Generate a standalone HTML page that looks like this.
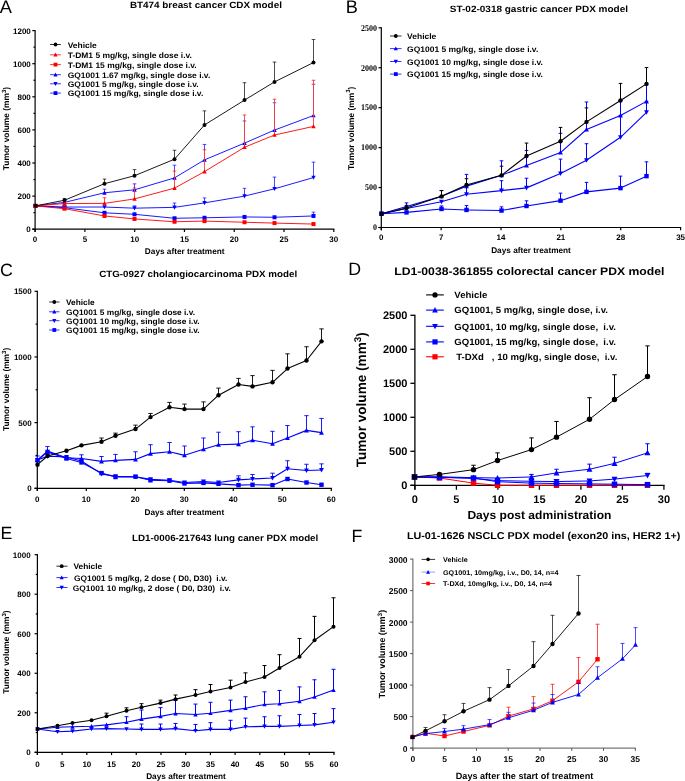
<!DOCTYPE html>
<html><head><meta charset="utf-8"><style>
html,body{margin:0;padding:0;background:#fff;}
body{width:685px;height:781px;overflow:hidden;font-family:"Liberation Sans", sans-serif;}
svg{display:block;will-change:transform;} text{white-space:pre;text-rendering:geometricPrecision;}
</style></head><body>
<svg width="685" height="781" viewBox="0 0 685 781">
<rect width="685" height="781" fill="#fff"/>
<line x1="35.1" y1="30" x2="35.1" y2="232" stroke="#000" stroke-width="1.2"/>
<line x1="32.3" y1="229.2" x2="334.41" y2="229.2" stroke="#000" stroke-width="1.2"/>
<line x1="32.3" y1="229.2" x2="35.1" y2="229.2" stroke="#000" stroke-width="1.2"/>
<text x="30.8" y="232.1" font-size="8" font-weight="bold" text-anchor="end" fill="#000" font-family='"Liberation Sans", sans-serif'>0</text>
<line x1="32.3" y1="196.1" x2="35.1" y2="196.1" stroke="#000" stroke-width="1.2"/>
<text x="30.8" y="199" font-size="8" font-weight="bold" text-anchor="end" fill="#000" font-family='"Liberation Sans", sans-serif'>200</text>
<line x1="32.3" y1="163" x2="35.1" y2="163" stroke="#000" stroke-width="1.2"/>
<text x="30.8" y="165.9" font-size="8" font-weight="bold" text-anchor="end" fill="#000" font-family='"Liberation Sans", sans-serif'>400</text>
<line x1="32.3" y1="129.9" x2="35.1" y2="129.9" stroke="#000" stroke-width="1.2"/>
<text x="30.8" y="132.8" font-size="8" font-weight="bold" text-anchor="end" fill="#000" font-family='"Liberation Sans", sans-serif'>600</text>
<line x1="32.3" y1="96.8" x2="35.1" y2="96.8" stroke="#000" stroke-width="1.2"/>
<text x="30.8" y="99.7" font-size="8" font-weight="bold" text-anchor="end" fill="#000" font-family='"Liberation Sans", sans-serif'>800</text>
<line x1="32.3" y1="63.7" x2="35.1" y2="63.7" stroke="#000" stroke-width="1.2"/>
<text x="30.8" y="66.6" font-size="8" font-weight="bold" text-anchor="end" fill="#000" font-family='"Liberation Sans", sans-serif'>1000</text>
<line x1="32.3" y1="30.6" x2="35.1" y2="30.6" stroke="#000" stroke-width="1.2"/>
<text x="30.8" y="33.5" font-size="8" font-weight="bold" text-anchor="end" fill="#000" font-family='"Liberation Sans", sans-serif'>1200</text>
<line x1="33.42" y1="212.65" x2="35.1" y2="212.65" stroke="#000" stroke-width="1.2"/>
<line x1="33.42" y1="179.55" x2="35.1" y2="179.55" stroke="#000" stroke-width="1.2"/>
<line x1="33.42" y1="146.45" x2="35.1" y2="146.45" stroke="#000" stroke-width="1.2"/>
<line x1="33.42" y1="113.35" x2="35.1" y2="113.35" stroke="#000" stroke-width="1.2"/>
<line x1="33.42" y1="80.25" x2="35.1" y2="80.25" stroke="#000" stroke-width="1.2"/>
<line x1="33.42" y1="47.15" x2="35.1" y2="47.15" stroke="#000" stroke-width="1.2"/>
<line x1="35.1" y1="229.2" x2="35.1" y2="232" stroke="#000" stroke-width="1.2"/>
<text x="35.1" y="241.8" font-size="8" font-weight="bold" text-anchor="middle" fill="#000" font-family='"Liberation Sans", sans-serif'>0</text>
<line x1="84.89" y1="229.2" x2="84.89" y2="232" stroke="#000" stroke-width="1.2"/>
<text x="84.89" y="241.8" font-size="8" font-weight="bold" text-anchor="middle" fill="#000" font-family='"Liberation Sans", sans-serif'>5</text>
<line x1="134.67" y1="229.2" x2="134.67" y2="232" stroke="#000" stroke-width="1.2"/>
<text x="134.67" y="241.8" font-size="8" font-weight="bold" text-anchor="middle" fill="#000" font-family='"Liberation Sans", sans-serif'>10</text>
<line x1="184.46" y1="229.2" x2="184.46" y2="232" stroke="#000" stroke-width="1.2"/>
<text x="184.46" y="241.8" font-size="8" font-weight="bold" text-anchor="middle" fill="#000" font-family='"Liberation Sans", sans-serif'>15</text>
<line x1="234.24" y1="229.2" x2="234.24" y2="232" stroke="#000" stroke-width="1.2"/>
<text x="234.24" y="241.8" font-size="8" font-weight="bold" text-anchor="middle" fill="#000" font-family='"Liberation Sans", sans-serif'>20</text>
<line x1="284.03" y1="229.2" x2="284.03" y2="232" stroke="#000" stroke-width="1.2"/>
<text x="284.03" y="241.8" font-size="8" font-weight="bold" text-anchor="middle" fill="#000" font-family='"Liberation Sans", sans-serif'>25</text>
<line x1="333.81" y1="229.2" x2="333.81" y2="232" stroke="#000" stroke-width="1.2"/>
<text x="333.81" y="241.8" font-size="8" font-weight="bold" text-anchor="middle" fill="#000" font-family='"Liberation Sans", sans-serif'>30</text>
<text x="129.9" y="7.9" font-size="9.12" font-weight="bold" text-anchor="start" fill="#000" font-family='"Liberation Sans", sans-serif' textLength="152" lengthAdjust="spacingAndGlyphs">BT474 breast cancer CDX model</text>
<text x="-0.3" y="12.5" font-size="18.2" font-weight="normal" text-anchor="start" fill="#000" font-family='"Liberation Sans", sans-serif'>A</text>
<text x="184.7" y="253.5" font-size="8.24" font-weight="bold" text-anchor="middle" fill="#000" font-family='"Liberation Sans", sans-serif' textLength="79.7" lengthAdjust="spacingAndGlyphs">Days after treatment</text>
<text transform="translate(9.2,128.5) rotate(-90)" font-size="8.4" font-weight="bold" text-anchor="middle" font-family='"Liberation Sans", sans-serif' fill="#000">Tumor volume (mm<tspan font-size="6.05" dy="-3.19">3</tspan><tspan dy="3.19">)</tspan></text>
<polyline points="35.5,205.86 64.5,207.69 104.5,212.82 134.5,214.3 174.5,218.28 204.5,217.78 244.5,216.95 274.5,217.28 313.5,215.96" fill="none" stroke="#0000ff" stroke-width="0.9" stroke-linejoin="round"/>
<line x1="313.5" y1="215.96" x2="313.5" y2="212.15" stroke="#fff" stroke-width="0.7"/>
<line x1="313.5" y1="215.96" x2="313.5" y2="212.15" stroke="#0000ff" stroke-width="0.7"/>
<line x1="311.7" y1="212.15" x2="315.3" y2="212.15" stroke="#0000ff" stroke-width="0.7"/>
<rect x="33.5" y="203.86" width="4" height="4" fill="#0000ff"/>
<rect x="62.5" y="205.69" width="4" height="4" fill="#0000ff"/>
<rect x="102.5" y="210.82" width="4" height="4" fill="#0000ff"/>
<rect x="132.5" y="212.3" width="4" height="4" fill="#0000ff"/>
<rect x="172.5" y="216.28" width="4" height="4" fill="#0000ff"/>
<rect x="202.5" y="215.78" width="4" height="4" fill="#0000ff"/>
<rect x="242.5" y="214.95" width="4" height="4" fill="#0000ff"/>
<rect x="272.5" y="215.28" width="4" height="4" fill="#0000ff"/>
<rect x="311.5" y="213.96" width="4" height="4" fill="#0000ff"/>
<polyline points="35.5,205.86 64.5,207.02 104.5,207.02 134.5,208.18 174.5,207.35 204.5,202.89 244.5,196.1 274.5,188.82 313.5,177.56" fill="none" stroke="#0000ff" stroke-width="0.9" stroke-linejoin="round"/>
<line x1="134.5" y1="208.18" x2="134.5" y2="205.86" stroke="#fff" stroke-width="0.7"/>
<line x1="134.5" y1="208.18" x2="134.5" y2="205.86" stroke="#0000ff" stroke-width="0.7"/>
<line x1="132.7" y1="205.86" x2="136.3" y2="205.86" stroke="#0000ff" stroke-width="0.7"/>
<line x1="174.5" y1="207.35" x2="174.5" y2="203.05" stroke="#fff" stroke-width="0.7"/>
<line x1="174.5" y1="207.35" x2="174.5" y2="203.05" stroke="#0000ff" stroke-width="0.7"/>
<line x1="172.7" y1="203.05" x2="176.3" y2="203.05" stroke="#0000ff" stroke-width="0.7"/>
<line x1="204.5" y1="202.89" x2="204.5" y2="197.92" stroke="#fff" stroke-width="0.7"/>
<line x1="204.5" y1="202.89" x2="204.5" y2="197.92" stroke="#0000ff" stroke-width="0.7"/>
<line x1="202.7" y1="197.92" x2="206.3" y2="197.92" stroke="#0000ff" stroke-width="0.7"/>
<line x1="244.5" y1="196.1" x2="244.5" y2="188.32" stroke="#fff" stroke-width="0.7"/>
<line x1="244.5" y1="196.1" x2="244.5" y2="188.32" stroke="#0000ff" stroke-width="0.7"/>
<line x1="242.7" y1="188.32" x2="246.3" y2="188.32" stroke="#0000ff" stroke-width="0.7"/>
<line x1="274.5" y1="188.82" x2="274.5" y2="177.07" stroke="#fff" stroke-width="0.7"/>
<line x1="274.5" y1="188.82" x2="274.5" y2="177.07" stroke="#0000ff" stroke-width="0.7"/>
<line x1="272.7" y1="177.07" x2="276.3" y2="177.07" stroke="#0000ff" stroke-width="0.7"/>
<line x1="313.5" y1="177.56" x2="313.5" y2="162.17" stroke="#fff" stroke-width="0.7"/>
<line x1="313.5" y1="177.56" x2="313.5" y2="162.17" stroke="#0000ff" stroke-width="0.7"/>
<line x1="311.7" y1="162.17" x2="315.3" y2="162.17" stroke="#0000ff" stroke-width="0.7"/>
<polygon points="35.5,208.16 37.7,204.02 33.3,204.02" fill="#0000ff"/>
<polygon points="64.5,209.32 66.7,205.18 62.3,205.18" fill="#0000ff"/>
<polygon points="104.5,209.32 106.7,205.18 102.3,205.18" fill="#0000ff"/>
<polygon points="134.5,210.48 136.7,206.34 132.3,206.34" fill="#0000ff"/>
<polygon points="174.5,209.65 176.7,205.51 172.3,205.51" fill="#0000ff"/>
<polygon points="204.5,205.19 206.7,201.05 202.3,201.05" fill="#0000ff"/>
<polygon points="244.5,198.4 246.7,194.26 242.3,194.26" fill="#0000ff"/>
<polygon points="274.5,191.12 276.7,186.98 272.3,186.98" fill="#0000ff"/>
<polygon points="313.5,179.86 315.7,175.72 311.3,175.72" fill="#0000ff"/>
<polyline points="35.5,205.86 64.5,202.39 104.5,192.79 134.5,189.81 174.5,177.89 204.5,159.86 244.5,143.14 274.5,130.07 313.5,115.5" fill="none" stroke="#0000ff" stroke-width="0.9" stroke-linejoin="round"/>
<line x1="104.5" y1="192.79" x2="104.5" y2="189.15" stroke="#fff" stroke-width="0.7"/>
<line x1="104.5" y1="192.79" x2="104.5" y2="189.15" stroke="#0000ff" stroke-width="0.7"/>
<line x1="102.7" y1="189.15" x2="106.3" y2="189.15" stroke="#0000ff" stroke-width="0.7"/>
<line x1="134.5" y1="189.81" x2="134.5" y2="183.85" stroke="#fff" stroke-width="0.7"/>
<line x1="134.5" y1="189.81" x2="134.5" y2="183.85" stroke="#0000ff" stroke-width="0.7"/>
<line x1="132.7" y1="183.85" x2="136.3" y2="183.85" stroke="#0000ff" stroke-width="0.7"/>
<line x1="174.5" y1="177.89" x2="174.5" y2="165.15" stroke="#fff" stroke-width="0.7"/>
<line x1="174.5" y1="177.89" x2="174.5" y2="165.15" stroke="#0000ff" stroke-width="0.7"/>
<line x1="172.7" y1="165.15" x2="176.3" y2="165.15" stroke="#0000ff" stroke-width="0.7"/>
<line x1="204.5" y1="159.86" x2="204.5" y2="144.46" stroke="#fff" stroke-width="0.7"/>
<line x1="204.5" y1="159.86" x2="204.5" y2="144.46" stroke="#0000ff" stroke-width="0.7"/>
<line x1="202.7" y1="144.46" x2="206.3" y2="144.46" stroke="#0000ff" stroke-width="0.7"/>
<line x1="244.5" y1="143.14" x2="244.5" y2="120.96" stroke="#fff" stroke-width="0.7"/>
<line x1="244.5" y1="143.14" x2="244.5" y2="120.96" stroke="#0000ff" stroke-width="0.7"/>
<line x1="242.7" y1="120.96" x2="246.3" y2="120.96" stroke="#0000ff" stroke-width="0.7"/>
<line x1="274.5" y1="130.07" x2="274.5" y2="102.76" stroke="#fff" stroke-width="0.7"/>
<line x1="274.5" y1="130.07" x2="274.5" y2="102.76" stroke="#0000ff" stroke-width="0.7"/>
<line x1="272.7" y1="102.76" x2="276.3" y2="102.76" stroke="#0000ff" stroke-width="0.7"/>
<line x1="313.5" y1="115.5" x2="313.5" y2="84.22" stroke="#fff" stroke-width="0.7"/>
<line x1="313.5" y1="115.5" x2="313.5" y2="84.22" stroke="#0000ff" stroke-width="0.7"/>
<line x1="311.7" y1="84.22" x2="315.3" y2="84.22" stroke="#0000ff" stroke-width="0.7"/>
<polygon points="35.5,203.56 37.7,207.7 33.3,207.7" fill="#0000ff"/>
<polygon points="64.5,200.09 66.7,204.23 62.3,204.23" fill="#0000ff"/>
<polygon points="104.5,190.49 106.7,194.63 102.3,194.63" fill="#0000ff"/>
<polygon points="134.5,187.51 136.7,191.65 132.3,191.65" fill="#0000ff"/>
<polygon points="174.5,175.59 176.7,179.73 172.3,179.73" fill="#0000ff"/>
<polygon points="204.5,157.56 206.7,161.7 202.3,161.7" fill="#0000ff"/>
<polygon points="244.5,140.84 246.7,144.98 242.3,144.98" fill="#0000ff"/>
<polygon points="274.5,127.77 276.7,131.91 272.3,131.91" fill="#0000ff"/>
<polygon points="313.5,113.2 315.7,117.34 311.3,117.34" fill="#0000ff"/>
<polyline points="35.5,205.86 64.5,208.68 104.5,215.96 134.5,218.94 174.5,221.75 204.5,221.09 244.5,222.25 274.5,223.08 313.5,224.07" fill="none" stroke="#ff0000" stroke-width="0.9" stroke-linejoin="round"/>
<rect x="33.5" y="203.86" width="4" height="4" fill="#ff0000"/>
<rect x="62.5" y="206.68" width="4" height="4" fill="#ff0000"/>
<rect x="102.5" y="213.96" width="4" height="4" fill="#ff0000"/>
<rect x="132.5" y="216.94" width="4" height="4" fill="#ff0000"/>
<rect x="172.5" y="219.75" width="4" height="4" fill="#ff0000"/>
<rect x="202.5" y="219.09" width="4" height="4" fill="#ff0000"/>
<rect x="242.5" y="220.25" width="4" height="4" fill="#ff0000"/>
<rect x="272.5" y="221.08" width="4" height="4" fill="#ff0000"/>
<rect x="311.5" y="222.07" width="4" height="4" fill="#ff0000"/>
<polyline points="35.5,205.86 64.5,203.55 104.5,203.38 134.5,198.91 174.5,188.16 204.5,171.61 244.5,147.28 274.5,135.03 313.5,126.42" fill="none" stroke="#ff0000" stroke-width="0.9" stroke-linejoin="round"/>
<line x1="104.5" y1="203.38" x2="104.5" y2="197.75" stroke="#fff" stroke-width="0.7"/>
<line x1="104.5" y1="203.38" x2="104.5" y2="197.75" stroke="#ff0000" stroke-width="0.7"/>
<line x1="102.7" y1="197.75" x2="106.3" y2="197.75" stroke="#ff0000" stroke-width="0.7"/>
<line x1="134.5" y1="198.91" x2="134.5" y2="187.99" stroke="#fff" stroke-width="0.7"/>
<line x1="134.5" y1="198.91" x2="134.5" y2="187.99" stroke="#ff0000" stroke-width="0.7"/>
<line x1="132.7" y1="187.99" x2="136.3" y2="187.99" stroke="#ff0000" stroke-width="0.7"/>
<line x1="174.5" y1="188.16" x2="174.5" y2="171.11" stroke="#fff" stroke-width="0.7"/>
<line x1="174.5" y1="188.16" x2="174.5" y2="171.11" stroke="#ff0000" stroke-width="0.7"/>
<line x1="172.7" y1="171.11" x2="176.3" y2="171.11" stroke="#ff0000" stroke-width="0.7"/>
<line x1="204.5" y1="171.61" x2="204.5" y2="149.76" stroke="#fff" stroke-width="0.7"/>
<line x1="204.5" y1="171.61" x2="204.5" y2="149.76" stroke="#ff0000" stroke-width="0.7"/>
<line x1="202.7" y1="149.76" x2="206.3" y2="149.76" stroke="#ff0000" stroke-width="0.7"/>
<line x1="244.5" y1="147.28" x2="244.5" y2="115" stroke="#fff" stroke-width="0.7"/>
<line x1="244.5" y1="147.28" x2="244.5" y2="115" stroke="#ff0000" stroke-width="0.7"/>
<line x1="242.7" y1="115" x2="246.3" y2="115" stroke="#ff0000" stroke-width="0.7"/>
<line x1="274.5" y1="135.03" x2="274.5" y2="99.28" stroke="#fff" stroke-width="0.7"/>
<line x1="274.5" y1="135.03" x2="274.5" y2="99.28" stroke="#ff0000" stroke-width="0.7"/>
<line x1="272.7" y1="99.28" x2="276.3" y2="99.28" stroke="#ff0000" stroke-width="0.7"/>
<line x1="313.5" y1="126.42" x2="313.5" y2="80.25" stroke="#fff" stroke-width="0.7"/>
<line x1="313.5" y1="126.42" x2="313.5" y2="80.25" stroke="#ff0000" stroke-width="0.7"/>
<line x1="311.7" y1="80.25" x2="315.3" y2="80.25" stroke="#ff0000" stroke-width="0.7"/>
<polygon points="35.5,203.56 37.7,207.7 33.3,207.7" fill="#ff0000"/>
<polygon points="64.5,201.25 66.7,205.39 62.3,205.39" fill="#ff0000"/>
<polygon points="104.5,201.08 106.7,205.22 102.3,205.22" fill="#ff0000"/>
<polygon points="134.5,196.61 136.7,200.75 132.3,200.75" fill="#ff0000"/>
<polygon points="174.5,185.86 176.7,190 172.3,190" fill="#ff0000"/>
<polygon points="204.5,169.31 206.7,173.45 202.3,173.45" fill="#ff0000"/>
<polygon points="244.5,144.98 246.7,149.12 242.3,149.12" fill="#ff0000"/>
<polygon points="274.5,132.73 276.7,136.87 272.3,136.87" fill="#ff0000"/>
<polygon points="313.5,124.12 315.7,128.26 311.3,128.26" fill="#ff0000"/>
<polyline points="35.5,205.86 64.5,200.24 104.5,183.69 134.5,175.74 174.5,159.19 204.5,124.93 244.5,100.11 274.5,81.9 313.5,62.54" fill="none" stroke="#000" stroke-width="0.9" stroke-linejoin="round"/>
<line x1="64.5" y1="200.24" x2="64.5" y2="198.58" stroke="#fff" stroke-width="0.7"/>
<line x1="64.5" y1="200.24" x2="64.5" y2="198.58" stroke="#000" stroke-width="0.7"/>
<line x1="62.7" y1="198.58" x2="66.3" y2="198.58" stroke="#000" stroke-width="0.7"/>
<line x1="104.5" y1="183.69" x2="104.5" y2="179.05" stroke="#fff" stroke-width="0.7"/>
<line x1="104.5" y1="183.69" x2="104.5" y2="179.05" stroke="#000" stroke-width="0.7"/>
<line x1="102.7" y1="179.05" x2="106.3" y2="179.05" stroke="#000" stroke-width="0.7"/>
<line x1="134.5" y1="175.74" x2="134.5" y2="169.62" stroke="#fff" stroke-width="0.7"/>
<line x1="134.5" y1="175.74" x2="134.5" y2="169.62" stroke="#000" stroke-width="0.7"/>
<line x1="132.7" y1="169.62" x2="136.3" y2="169.62" stroke="#000" stroke-width="0.7"/>
<line x1="174.5" y1="159.19" x2="174.5" y2="150.26" stroke="#fff" stroke-width="0.7"/>
<line x1="174.5" y1="159.19" x2="174.5" y2="150.26" stroke="#000" stroke-width="0.7"/>
<line x1="172.7" y1="150.26" x2="176.3" y2="150.26" stroke="#000" stroke-width="0.7"/>
<line x1="204.5" y1="124.93" x2="204.5" y2="110.87" stroke="#fff" stroke-width="0.7"/>
<line x1="204.5" y1="124.93" x2="204.5" y2="110.87" stroke="#000" stroke-width="0.7"/>
<line x1="202.7" y1="110.87" x2="206.3" y2="110.87" stroke="#000" stroke-width="0.7"/>
<line x1="244.5" y1="100.11" x2="244.5" y2="82.73" stroke="#fff" stroke-width="0.7"/>
<line x1="244.5" y1="100.11" x2="244.5" y2="82.73" stroke="#000" stroke-width="0.7"/>
<line x1="242.7" y1="82.73" x2="246.3" y2="82.73" stroke="#000" stroke-width="0.7"/>
<line x1="274.5" y1="81.9" x2="274.5" y2="62.04" stroke="#fff" stroke-width="0.7"/>
<line x1="274.5" y1="81.9" x2="274.5" y2="62.04" stroke="#000" stroke-width="0.7"/>
<line x1="272.7" y1="62.04" x2="276.3" y2="62.04" stroke="#000" stroke-width="0.7"/>
<line x1="313.5" y1="62.54" x2="313.5" y2="39.54" stroke="#fff" stroke-width="0.7"/>
<line x1="313.5" y1="62.54" x2="313.5" y2="39.54" stroke="#000" stroke-width="0.7"/>
<line x1="311.7" y1="39.54" x2="315.3" y2="39.54" stroke="#000" stroke-width="0.7"/>
<circle cx="35.5" cy="205.86" r="2" fill="#000"/>
<circle cx="64.5" cy="200.24" r="2" fill="#000"/>
<circle cx="104.5" cy="183.69" r="2" fill="#000"/>
<circle cx="134.5" cy="175.74" r="2" fill="#000"/>
<circle cx="174.5" cy="159.19" r="2" fill="#000"/>
<circle cx="204.5" cy="124.93" r="2" fill="#000"/>
<circle cx="244.5" cy="100.11" r="2" fill="#000"/>
<circle cx="274.5" cy="81.9" r="2" fill="#000"/>
<circle cx="313.5" cy="62.54" r="2" fill="#000"/>
<line x1="50.1" y1="44.5" x2="60.9" y2="44.5" stroke="#000" stroke-width="0.8"/>
<circle cx="55.5" cy="44.5" r="1.9" fill="#000"/>
<text x="67.7" y="47.5" font-size="8.03" font-weight="bold" text-anchor="start" fill="#000" font-family='"Liberation Sans", sans-serif' textLength="29.13" lengthAdjust="spacingAndGlyphs">Vehicle</text>
<line x1="50.1" y1="54.8" x2="60.9" y2="54.8" stroke="#ff0000" stroke-width="0.8"/>
<polygon points="55.5,52.61 57.59,56.55 53.41,56.55" fill="#ff0000"/>
<text x="67.7" y="57.8" font-size="8.03" font-weight="bold" text-anchor="start" fill="#000" font-family='"Liberation Sans", sans-serif' textLength="124.28" lengthAdjust="spacingAndGlyphs">T-DM1 5 mg/kg, single dose i.v.</text>
<line x1="50.1" y1="64.6" x2="60.9" y2="64.6" stroke="#ff0000" stroke-width="0.8"/>
<rect x="53.6" y="62.7" width="3.8" height="3.8" fill="#ff0000"/>
<text x="67.7" y="67.6" font-size="8.03" font-weight="bold" text-anchor="start" fill="#000" font-family='"Liberation Sans", sans-serif' textLength="128.98" lengthAdjust="spacingAndGlyphs">T-DM1 15 mg/kg, single dose i.v.</text>
<line x1="50.1" y1="74.7" x2="60.9" y2="74.7" stroke="#0000ff" stroke-width="0.8"/>
<polygon points="55.5,72.52 57.59,76.45 53.41,76.45" fill="#0000ff"/>
<text x="67.7" y="77.7" font-size="8.03" font-weight="bold" text-anchor="start" fill="#000" font-family='"Liberation Sans", sans-serif' textLength="142.61" lengthAdjust="spacingAndGlyphs">GQ1001 1.67 mg/kg, single dose i.v.</text>
<line x1="50.1" y1="83.8" x2="60.9" y2="83.8" stroke="#0000ff" stroke-width="0.8"/>
<polygon points="55.5,85.98 57.59,82.05 53.41,82.05" fill="#0000ff"/>
<text x="67.7" y="86.8" font-size="8.03" font-weight="bold" text-anchor="start" fill="#000" font-family='"Liberation Sans", sans-serif' textLength="130.87" lengthAdjust="spacingAndGlyphs">GQ1001 5 mg/kg, single dose i.v.</text>
<line x1="50.1" y1="93.1" x2="60.9" y2="93.1" stroke="#0000ff" stroke-width="0.8"/>
<rect x="53.6" y="91.2" width="3.8" height="3.8" fill="#0000ff"/>
<text x="67.7" y="96.1" font-size="8.03" font-weight="bold" text-anchor="start" fill="#000" font-family='"Liberation Sans", sans-serif' textLength="135.57" lengthAdjust="spacingAndGlyphs">GQ1001 15 mg/kg, single dose i.v.</text>
<line x1="381.3" y1="27.2" x2="381.3" y2="230.3" stroke="#000" stroke-width="1.2"/>
<line x1="378.5" y1="227.5" x2="681.19" y2="227.5" stroke="#000" stroke-width="1.2"/>
<line x1="378.5" y1="227.5" x2="381.3" y2="227.5" stroke="#000" stroke-width="1.2"/>
<text x="377.1" y="230.3" font-size="8.8" font-weight="bold" text-anchor="end" fill="#000" font-family='"Liberation Serif", serif' textLength="4" lengthAdjust="spacingAndGlyphs">0</text>
<line x1="378.5" y1="187.56" x2="381.3" y2="187.56" stroke="#000" stroke-width="1.2"/>
<text x="377.1" y="190.36" font-size="8.8" font-weight="bold" text-anchor="end" fill="#000" font-family='"Liberation Serif", serif' textLength="12" lengthAdjust="spacingAndGlyphs">500</text>
<line x1="378.5" y1="147.62" x2="381.3" y2="147.62" stroke="#000" stroke-width="1.2"/>
<text x="377.1" y="150.42" font-size="8.8" font-weight="bold" text-anchor="end" fill="#000" font-family='"Liberation Serif", serif' textLength="16" lengthAdjust="spacingAndGlyphs">1000</text>
<line x1="378.5" y1="107.68" x2="381.3" y2="107.68" stroke="#000" stroke-width="1.2"/>
<text x="377.1" y="110.48" font-size="8.8" font-weight="bold" text-anchor="end" fill="#000" font-family='"Liberation Serif", serif' textLength="16" lengthAdjust="spacingAndGlyphs">1500</text>
<line x1="378.5" y1="67.74" x2="381.3" y2="67.74" stroke="#000" stroke-width="1.2"/>
<text x="377.1" y="70.54" font-size="8.8" font-weight="bold" text-anchor="end" fill="#000" font-family='"Liberation Serif", serif' textLength="16" lengthAdjust="spacingAndGlyphs">2000</text>
<line x1="378.5" y1="27.8" x2="381.3" y2="27.8" stroke="#000" stroke-width="1.2"/>
<text x="377.1" y="30.6" font-size="8.8" font-weight="bold" text-anchor="end" fill="#000" font-family='"Liberation Serif", serif' textLength="16" lengthAdjust="spacingAndGlyphs">2500</text>
<line x1="381.3" y1="227.5" x2="381.3" y2="230.3" stroke="#000" stroke-width="1.2"/>
<text x="381.3" y="239.6" font-size="8" font-weight="bold" text-anchor="middle" fill="#000" font-family='"Liberation Sans", sans-serif'>0</text>
<line x1="441.16" y1="227.5" x2="441.16" y2="230.3" stroke="#000" stroke-width="1.2"/>
<text x="441.16" y="239.6" font-size="8" font-weight="bold" text-anchor="middle" fill="#000" font-family='"Liberation Sans", sans-serif'>7</text>
<line x1="501.01" y1="227.5" x2="501.01" y2="230.3" stroke="#000" stroke-width="1.2"/>
<text x="501.01" y="239.6" font-size="8" font-weight="bold" text-anchor="middle" fill="#000" font-family='"Liberation Sans", sans-serif'>14</text>
<line x1="560.87" y1="227.5" x2="560.87" y2="230.3" stroke="#000" stroke-width="1.2"/>
<text x="560.87" y="239.6" font-size="8" font-weight="bold" text-anchor="middle" fill="#000" font-family='"Liberation Sans", sans-serif'>21</text>
<line x1="620.73" y1="227.5" x2="620.73" y2="230.3" stroke="#000" stroke-width="1.2"/>
<text x="620.73" y="239.6" font-size="8" font-weight="bold" text-anchor="middle" fill="#000" font-family='"Liberation Sans", sans-serif'>28</text>
<line x1="680.59" y1="227.5" x2="680.59" y2="230.3" stroke="#000" stroke-width="1.2"/>
<text x="680.59" y="239.6" font-size="8" font-weight="bold" text-anchor="middle" fill="#000" font-family='"Liberation Sans", sans-serif'>35</text>
<text x="449.8" y="12.3" font-size="9.12" font-weight="bold" text-anchor="start" fill="#000" font-family='"Liberation Sans", sans-serif' textLength="178.2" lengthAdjust="spacingAndGlyphs">ST-02-0318 gastric cancer PDX model</text>
<text x="345.7" y="12.5" font-size="18.2" font-weight="normal" text-anchor="start" fill="#000" font-family='"Liberation Sans", sans-serif'>B</text>
<text x="531" y="252.9" font-size="8.24" font-weight="bold" text-anchor="middle" fill="#000" font-family='"Liberation Sans", sans-serif' textLength="79.7" lengthAdjust="spacingAndGlyphs">Days after treatment</text>
<text transform="translate(353.6,128.3) rotate(-90)" font-size="8.4" font-weight="bold" text-anchor="middle" font-family='"Liberation Sans", sans-serif' fill="#000">Tumor volume (mm<tspan font-size="6.05" dy="-3.19">3</tspan><tspan dy="3.19">)</tspan></text>
<polyline points="381.5,213.68 406.5,212.4 441.5,208.97 466.5,209.93 501.5,210.57 526.5,206.01 560.5,200.66 586.5,191.87 620.5,188.12 646.5,176.14" fill="none" stroke="#0000ff" stroke-width="1.1" stroke-linejoin="round"/>
<line x1="441.5" y1="208.97" x2="441.5" y2="205.93" stroke="#fff" stroke-width="1"/>
<line x1="441.5" y1="208.97" x2="441.5" y2="205.93" stroke="#0000ff" stroke-width="1"/>
<line x1="439.7" y1="205.93" x2="443.3" y2="205.93" stroke="#0000ff" stroke-width="1"/>
<line x1="466.5" y1="209.93" x2="466.5" y2="205.61" stroke="#fff" stroke-width="1"/>
<line x1="466.5" y1="209.93" x2="466.5" y2="205.61" stroke="#0000ff" stroke-width="1"/>
<line x1="464.7" y1="205.61" x2="468.3" y2="205.61" stroke="#0000ff" stroke-width="1"/>
<line x1="501.5" y1="210.57" x2="501.5" y2="206.89" stroke="#fff" stroke-width="1"/>
<line x1="501.5" y1="210.57" x2="501.5" y2="206.89" stroke="#0000ff" stroke-width="1"/>
<line x1="499.7" y1="206.89" x2="503.3" y2="206.89" stroke="#0000ff" stroke-width="1"/>
<line x1="526.5" y1="206.01" x2="526.5" y2="200.82" stroke="#fff" stroke-width="1"/>
<line x1="526.5" y1="206.01" x2="526.5" y2="200.82" stroke="#0000ff" stroke-width="1"/>
<line x1="524.7" y1="200.82" x2="528.3" y2="200.82" stroke="#0000ff" stroke-width="1"/>
<line x1="560.5" y1="200.66" x2="560.5" y2="193.15" stroke="#fff" stroke-width="1"/>
<line x1="560.5" y1="200.66" x2="560.5" y2="193.15" stroke="#0000ff" stroke-width="1"/>
<line x1="558.7" y1="193.15" x2="562.3" y2="193.15" stroke="#0000ff" stroke-width="1"/>
<line x1="586.5" y1="191.87" x2="586.5" y2="182.37" stroke="#fff" stroke-width="1"/>
<line x1="586.5" y1="191.87" x2="586.5" y2="182.37" stroke="#0000ff" stroke-width="1"/>
<line x1="584.7" y1="182.37" x2="588.3" y2="182.37" stroke="#0000ff" stroke-width="1"/>
<line x1="620.5" y1="188.12" x2="620.5" y2="176.14" stroke="#fff" stroke-width="1"/>
<line x1="620.5" y1="188.12" x2="620.5" y2="176.14" stroke="#0000ff" stroke-width="1"/>
<line x1="618.7" y1="176.14" x2="622.3" y2="176.14" stroke="#0000ff" stroke-width="1"/>
<line x1="646.5" y1="176.14" x2="646.5" y2="161.84" stroke="#fff" stroke-width="1"/>
<line x1="646.5" y1="176.14" x2="646.5" y2="161.84" stroke="#0000ff" stroke-width="1"/>
<line x1="644.7" y1="161.84" x2="648.3" y2="161.84" stroke="#0000ff" stroke-width="1"/>
<rect x="379.3" y="211.48" width="4.4" height="4.4" fill="#0000ff"/>
<rect x="404.3" y="210.2" width="4.4" height="4.4" fill="#0000ff"/>
<rect x="439.3" y="206.77" width="4.4" height="4.4" fill="#0000ff"/>
<rect x="464.3" y="207.73" width="4.4" height="4.4" fill="#0000ff"/>
<rect x="499.3" y="208.37" width="4.4" height="4.4" fill="#0000ff"/>
<rect x="524.3" y="203.81" width="4.4" height="4.4" fill="#0000ff"/>
<rect x="558.3" y="198.46" width="4.4" height="4.4" fill="#0000ff"/>
<rect x="584.3" y="189.67" width="4.4" height="4.4" fill="#0000ff"/>
<rect x="618.3" y="185.92" width="4.4" height="4.4" fill="#0000ff"/>
<rect x="644.3" y="173.94" width="4.4" height="4.4" fill="#0000ff"/>
<polyline points="381.5,213.68 406.5,208.49 441.5,201.7 466.5,194.27 501.5,190.6 526.5,187.88 560.5,173.58 586.5,160.24 620.5,137.32 646.5,112.31" fill="none" stroke="#0000ff" stroke-width="1.1" stroke-linejoin="round"/>
<line x1="466.5" y1="194.27" x2="466.5" y2="185.96" stroke="#fff" stroke-width="1"/>
<line x1="466.5" y1="194.27" x2="466.5" y2="185.96" stroke="#0000ff" stroke-width="1"/>
<line x1="464.7" y1="185.96" x2="468.3" y2="185.96" stroke="#0000ff" stroke-width="1"/>
<line x1="501.5" y1="190.6" x2="501.5" y2="180.69" stroke="#fff" stroke-width="1"/>
<line x1="501.5" y1="190.6" x2="501.5" y2="180.69" stroke="#0000ff" stroke-width="1"/>
<line x1="499.7" y1="180.69" x2="503.3" y2="180.69" stroke="#0000ff" stroke-width="1"/>
<line x1="526.5" y1="187.88" x2="526.5" y2="178.21" stroke="#fff" stroke-width="1"/>
<line x1="526.5" y1="187.88" x2="526.5" y2="178.21" stroke="#0000ff" stroke-width="1"/>
<line x1="524.7" y1="178.21" x2="528.3" y2="178.21" stroke="#0000ff" stroke-width="1"/>
<line x1="560.5" y1="173.58" x2="560.5" y2="159.12" stroke="#fff" stroke-width="1"/>
<line x1="560.5" y1="173.58" x2="560.5" y2="159.12" stroke="#0000ff" stroke-width="1"/>
<line x1="558.7" y1="159.12" x2="562.3" y2="159.12" stroke="#0000ff" stroke-width="1"/>
<line x1="586.5" y1="160.24" x2="586.5" y2="143.71" stroke="#fff" stroke-width="1"/>
<line x1="586.5" y1="160.24" x2="586.5" y2="143.71" stroke="#0000ff" stroke-width="1"/>
<line x1="584.7" y1="143.71" x2="588.3" y2="143.71" stroke="#0000ff" stroke-width="1"/>
<line x1="620.5" y1="137.32" x2="620.5" y2="115.43" stroke="#fff" stroke-width="1"/>
<line x1="620.5" y1="137.32" x2="620.5" y2="115.43" stroke="#0000ff" stroke-width="1"/>
<line x1="618.7" y1="115.43" x2="622.3" y2="115.43" stroke="#0000ff" stroke-width="1"/>
<line x1="646.5" y1="112.31" x2="646.5" y2="101.37" stroke="#fff" stroke-width="1"/>
<line x1="646.5" y1="112.31" x2="646.5" y2="101.37" stroke="#0000ff" stroke-width="1"/>
<line x1="644.7" y1="101.37" x2="648.3" y2="101.37" stroke="#0000ff" stroke-width="1"/>
<polygon points="381.5,216.21 383.92,211.66 379.08,211.66" fill="#0000ff"/>
<polygon points="406.5,211.02 408.92,206.46 404.08,206.46" fill="#0000ff"/>
<polygon points="441.5,204.23 443.92,199.67 439.08,199.67" fill="#0000ff"/>
<polygon points="466.5,196.8 468.92,192.25 464.08,192.25" fill="#0000ff"/>
<polygon points="501.5,193.13 503.92,188.57 499.08,188.57" fill="#0000ff"/>
<polygon points="526.5,190.41 528.92,185.86 524.08,185.86" fill="#0000ff"/>
<polygon points="560.5,176.11 562.92,171.56 558.08,171.56" fill="#0000ff"/>
<polygon points="586.5,162.77 588.92,158.22 584.08,158.22" fill="#0000ff"/>
<polygon points="620.5,139.85 622.92,135.29 618.08,135.29" fill="#0000ff"/>
<polygon points="646.5,114.84 648.92,110.29 644.08,110.29" fill="#0000ff"/>
<polyline points="381.5,213.68 406.5,206.49 441.5,196.35 466.5,186.12 501.5,175.34 526.5,165.51 560.5,152.57 586.5,129.49 620.5,115.43 646.5,101.37" fill="none" stroke="#0000ff" stroke-width="1.1" stroke-linejoin="round"/>
<line x1="406.5" y1="206.49" x2="406.5" y2="202.9" stroke="#fff" stroke-width="1"/>
<line x1="406.5" y1="206.49" x2="406.5" y2="202.9" stroke="#0000ff" stroke-width="1"/>
<line x1="404.7" y1="202.9" x2="408.3" y2="202.9" stroke="#0000ff" stroke-width="1"/>
<line x1="441.5" y1="196.35" x2="441.5" y2="190.44" stroke="#fff" stroke-width="1"/>
<line x1="441.5" y1="196.35" x2="441.5" y2="190.44" stroke="#0000ff" stroke-width="1"/>
<line x1="439.7" y1="190.44" x2="443.3" y2="190.44" stroke="#0000ff" stroke-width="1"/>
<line x1="466.5" y1="186.12" x2="466.5" y2="174.38" stroke="#fff" stroke-width="1"/>
<line x1="466.5" y1="186.12" x2="466.5" y2="174.38" stroke="#0000ff" stroke-width="1"/>
<line x1="464.7" y1="174.38" x2="468.3" y2="174.38" stroke="#0000ff" stroke-width="1"/>
<line x1="501.5" y1="175.34" x2="501.5" y2="160.8" stroke="#fff" stroke-width="1"/>
<line x1="501.5" y1="175.34" x2="501.5" y2="160.8" stroke="#0000ff" stroke-width="1"/>
<line x1="499.7" y1="160.8" x2="503.3" y2="160.8" stroke="#0000ff" stroke-width="1"/>
<line x1="526.5" y1="165.51" x2="526.5" y2="150.42" stroke="#fff" stroke-width="1"/>
<line x1="526.5" y1="165.51" x2="526.5" y2="150.42" stroke="#0000ff" stroke-width="1"/>
<line x1="524.7" y1="150.42" x2="528.3" y2="150.42" stroke="#0000ff" stroke-width="1"/>
<line x1="560.5" y1="152.57" x2="560.5" y2="133.32" stroke="#fff" stroke-width="1"/>
<line x1="560.5" y1="152.57" x2="560.5" y2="133.32" stroke="#0000ff" stroke-width="1"/>
<line x1="558.7" y1="133.32" x2="562.3" y2="133.32" stroke="#0000ff" stroke-width="1"/>
<line x1="586.5" y1="129.49" x2="586.5" y2="102.01" stroke="#fff" stroke-width="1"/>
<line x1="586.5" y1="129.49" x2="586.5" y2="102.01" stroke="#0000ff" stroke-width="1"/>
<line x1="584.7" y1="102.01" x2="588.3" y2="102.01" stroke="#0000ff" stroke-width="1"/>
<line x1="620.5" y1="115.43" x2="620.5" y2="100.49" stroke="#fff" stroke-width="1"/>
<line x1="620.5" y1="115.43" x2="620.5" y2="100.49" stroke="#0000ff" stroke-width="1"/>
<line x1="618.7" y1="100.49" x2="622.3" y2="100.49" stroke="#0000ff" stroke-width="1"/>
<line x1="646.5" y1="101.37" x2="646.5" y2="83.88" stroke="#fff" stroke-width="1"/>
<line x1="646.5" y1="101.37" x2="646.5" y2="83.88" stroke="#0000ff" stroke-width="1"/>
<line x1="644.7" y1="83.88" x2="648.3" y2="83.88" stroke="#0000ff" stroke-width="1"/>
<polygon points="381.5,211.15 383.92,215.7 379.08,215.7" fill="#0000ff"/>
<polygon points="406.5,203.96 408.92,208.52 404.08,208.52" fill="#0000ff"/>
<polygon points="441.5,193.82 443.92,198.37 439.08,198.37" fill="#0000ff"/>
<polygon points="466.5,183.59 468.92,188.15 464.08,188.15" fill="#0000ff"/>
<polygon points="501.5,172.81 503.92,177.36 499.08,177.36" fill="#0000ff"/>
<polygon points="526.5,162.98 528.92,167.54 524.08,167.54" fill="#0000ff"/>
<polygon points="560.5,150.04 562.92,154.6 558.08,154.6" fill="#0000ff"/>
<polygon points="586.5,126.96 588.92,131.51 584.08,131.51" fill="#0000ff"/>
<polygon points="620.5,112.9 622.92,117.45 618.08,117.45" fill="#0000ff"/>
<polygon points="646.5,98.84 648.92,103.39 644.08,103.39" fill="#0000ff"/>
<polyline points="381.5,213.68 406.5,208.09 441.5,196.35 466.5,185 501.5,175.34 526.5,156.01 560.5,141.23 586.5,121.9 620.5,100.49 646.5,83.88" fill="none" stroke="#000" stroke-width="1.1" stroke-linejoin="round"/>
<line x1="406.5" y1="208.09" x2="406.5" y2="205.37" stroke="#fff" stroke-width="1"/>
<line x1="406.5" y1="208.09" x2="406.5" y2="205.37" stroke="#000" stroke-width="1"/>
<line x1="404.7" y1="205.37" x2="408.3" y2="205.37" stroke="#000" stroke-width="1"/>
<line x1="441.5" y1="196.35" x2="441.5" y2="190.68" stroke="#fff" stroke-width="1"/>
<line x1="441.5" y1="196.35" x2="441.5" y2="190.68" stroke="#000" stroke-width="1"/>
<line x1="439.7" y1="190.68" x2="443.3" y2="190.68" stroke="#000" stroke-width="1"/>
<line x1="466.5" y1="185" x2="466.5" y2="178.69" stroke="#fff" stroke-width="1"/>
<line x1="466.5" y1="185" x2="466.5" y2="178.69" stroke="#000" stroke-width="1"/>
<line x1="464.7" y1="178.69" x2="468.3" y2="178.69" stroke="#000" stroke-width="1"/>
<line x1="501.5" y1="175.34" x2="501.5" y2="166.23" stroke="#fff" stroke-width="1"/>
<line x1="501.5" y1="175.34" x2="501.5" y2="166.23" stroke="#000" stroke-width="1"/>
<line x1="499.7" y1="166.23" x2="503.3" y2="166.23" stroke="#000" stroke-width="1"/>
<line x1="526.5" y1="156.01" x2="526.5" y2="143.07" stroke="#fff" stroke-width="1"/>
<line x1="526.5" y1="156.01" x2="526.5" y2="143.07" stroke="#000" stroke-width="1"/>
<line x1="524.7" y1="143.07" x2="528.3" y2="143.07" stroke="#000" stroke-width="1"/>
<line x1="560.5" y1="141.23" x2="560.5" y2="127.41" stroke="#fff" stroke-width="1"/>
<line x1="560.5" y1="141.23" x2="560.5" y2="127.41" stroke="#000" stroke-width="1"/>
<line x1="558.7" y1="127.41" x2="562.3" y2="127.41" stroke="#000" stroke-width="1"/>
<line x1="586.5" y1="121.9" x2="586.5" y2="107.92" stroke="#fff" stroke-width="1"/>
<line x1="586.5" y1="121.9" x2="586.5" y2="107.92" stroke="#000" stroke-width="1"/>
<line x1="584.7" y1="107.92" x2="588.3" y2="107.92" stroke="#000" stroke-width="1"/>
<line x1="620.5" y1="100.49" x2="620.5" y2="83.4" stroke="#fff" stroke-width="1"/>
<line x1="620.5" y1="100.49" x2="620.5" y2="83.4" stroke="#000" stroke-width="1"/>
<line x1="618.7" y1="83.4" x2="622.3" y2="83.4" stroke="#000" stroke-width="1"/>
<line x1="646.5" y1="83.88" x2="646.5" y2="67.58" stroke="#fff" stroke-width="1"/>
<line x1="646.5" y1="83.88" x2="646.5" y2="67.58" stroke="#000" stroke-width="1"/>
<line x1="644.7" y1="67.58" x2="648.3" y2="67.58" stroke="#000" stroke-width="1"/>
<circle cx="381.5" cy="213.68" r="2.2" fill="#000"/>
<circle cx="406.5" cy="208.09" r="2.2" fill="#000"/>
<circle cx="441.5" cy="196.35" r="2.2" fill="#000"/>
<circle cx="466.5" cy="185" r="2.2" fill="#000"/>
<circle cx="501.5" cy="175.34" r="2.2" fill="#000"/>
<circle cx="526.5" cy="156.01" r="2.2" fill="#000"/>
<circle cx="560.5" cy="141.23" r="2.2" fill="#000"/>
<circle cx="586.5" cy="121.9" r="2.2" fill="#000"/>
<circle cx="620.5" cy="100.49" r="2.2" fill="#000"/>
<circle cx="646.5" cy="83.88" r="2.2" fill="#000"/>
<line x1="390" y1="36" x2="401.5" y2="36" stroke="#000" stroke-width="0.8"/>
<circle cx="395.8" cy="36" r="1.9" fill="#000"/>
<text x="407.1" y="39" font-size="8.05" font-weight="bold" text-anchor="start" fill="#000" font-family='"Liberation Sans", sans-serif' textLength="29.2" lengthAdjust="spacingAndGlyphs">Vehicle</text>
<line x1="390" y1="48.6" x2="401.5" y2="48.6" stroke="#0000ff" stroke-width="0.8"/>
<polygon points="395.8,46.41 397.89,50.35 393.71,50.35" fill="#0000ff"/>
<text x="407.1" y="51.6" font-size="8.05" font-weight="bold" text-anchor="start" fill="#000" font-family='"Liberation Sans", sans-serif' textLength="131.18" lengthAdjust="spacingAndGlyphs">GQ1001 5 mg/kg, single dose i.v.</text>
<line x1="390" y1="61.5" x2="401.5" y2="61.5" stroke="#0000ff" stroke-width="0.8"/>
<polygon points="395.8,63.69 397.89,59.75 393.71,59.75" fill="#0000ff"/>
<text x="407.1" y="64.5" font-size="8.05" font-weight="bold" text-anchor="start" fill="#000" font-family='"Liberation Sans", sans-serif' textLength="135.89" lengthAdjust="spacingAndGlyphs">GQ1001 10 mg/kg, single dose i.v.</text>
<line x1="390" y1="74.1" x2="401.5" y2="74.1" stroke="#0000ff" stroke-width="0.8"/>
<rect x="393.9" y="72.2" width="3.8" height="3.8" fill="#0000ff"/>
<text x="407.1" y="77.1" font-size="8.05" font-weight="bold" text-anchor="start" fill="#000" font-family='"Liberation Sans", sans-serif' textLength="135.89" lengthAdjust="spacingAndGlyphs">GQ1001 15 mg/kg, single dose i.v.</text>
<line x1="37.3" y1="290.7" x2="37.3" y2="491.1" stroke="#000" stroke-width="1.2"/>
<line x1="34.5" y1="488.3" x2="331.9" y2="488.3" stroke="#000" stroke-width="1.2"/>
<line x1="34.5" y1="488.3" x2="37.3" y2="488.3" stroke="#000" stroke-width="1.2"/>
<text x="31.7" y="491.2" font-size="8" font-weight="bold" text-anchor="end" fill="#000" font-family='"Liberation Sans", sans-serif'>0</text>
<line x1="34.5" y1="422.63" x2="37.3" y2="422.63" stroke="#000" stroke-width="1.2"/>
<text x="31.7" y="425.53" font-size="8" font-weight="bold" text-anchor="end" fill="#000" font-family='"Liberation Sans", sans-serif'>500</text>
<line x1="34.5" y1="356.97" x2="37.3" y2="356.97" stroke="#000" stroke-width="1.2"/>
<text x="31.7" y="359.87" font-size="8" font-weight="bold" text-anchor="end" fill="#000" font-family='"Liberation Sans", sans-serif'>1000</text>
<line x1="34.5" y1="291.31" x2="37.3" y2="291.31" stroke="#000" stroke-width="1.2"/>
<text x="31.7" y="294.2" font-size="8" font-weight="bold" text-anchor="end" fill="#000" font-family='"Liberation Sans", sans-serif'>1500</text>
<line x1="35.62" y1="455.47" x2="37.3" y2="455.47" stroke="#000" stroke-width="1.2"/>
<line x1="35.62" y1="389.8" x2="37.3" y2="389.8" stroke="#000" stroke-width="1.2"/>
<line x1="35.62" y1="324.14" x2="37.3" y2="324.14" stroke="#000" stroke-width="1.2"/>
<line x1="37.3" y1="488.3" x2="37.3" y2="491.1" stroke="#000" stroke-width="1.2"/>
<text x="37.3" y="501.5" font-size="8" font-weight="bold" text-anchor="middle" fill="#000" font-family='"Liberation Sans", sans-serif'>0</text>
<line x1="86.3" y1="488.3" x2="86.3" y2="491.1" stroke="#000" stroke-width="1.2"/>
<text x="86.3" y="501.5" font-size="8" font-weight="bold" text-anchor="middle" fill="#000" font-family='"Liberation Sans", sans-serif'>10</text>
<line x1="135.3" y1="488.3" x2="135.3" y2="491.1" stroke="#000" stroke-width="1.2"/>
<text x="135.3" y="501.5" font-size="8" font-weight="bold" text-anchor="middle" fill="#000" font-family='"Liberation Sans", sans-serif'>20</text>
<line x1="184.3" y1="488.3" x2="184.3" y2="491.1" stroke="#000" stroke-width="1.2"/>
<text x="184.3" y="501.5" font-size="8" font-weight="bold" text-anchor="middle" fill="#000" font-family='"Liberation Sans", sans-serif'>30</text>
<line x1="233.3" y1="488.3" x2="233.3" y2="491.1" stroke="#000" stroke-width="1.2"/>
<text x="233.3" y="501.5" font-size="8" font-weight="bold" text-anchor="middle" fill="#000" font-family='"Liberation Sans", sans-serif'>40</text>
<line x1="282.3" y1="488.3" x2="282.3" y2="491.1" stroke="#000" stroke-width="1.2"/>
<text x="282.3" y="501.5" font-size="8" font-weight="bold" text-anchor="middle" fill="#000" font-family='"Liberation Sans", sans-serif'>50</text>
<line x1="331.3" y1="488.3" x2="331.3" y2="491.1" stroke="#000" stroke-width="1.2"/>
<text x="331.3" y="501.5" font-size="8" font-weight="bold" text-anchor="middle" fill="#000" font-family='"Liberation Sans", sans-serif'>60</text>
<text x="99.2" y="277.4" font-size="9.12" font-weight="bold" text-anchor="start" fill="#000" font-family='"Liberation Sans", sans-serif' textLength="198" lengthAdjust="spacingAndGlyphs">CTG-0927 cholangiocarcinoma PDX model</text>
<text x="0.1" y="275.5" font-size="17.8" font-weight="normal" text-anchor="start" fill="#000" font-family='"Liberation Sans", sans-serif'>C</text>
<text x="184.3" y="514.7" font-size="8.24" font-weight="bold" text-anchor="middle" fill="#000" font-family='"Liberation Sans", sans-serif' textLength="79.7" lengthAdjust="spacingAndGlyphs">Days after treatment</text>
<text transform="translate(9.4,389.4) rotate(-90)" font-size="8.4" font-weight="bold" text-anchor="middle" font-family='"Liberation Sans", sans-serif' fill="#000">Tumor volume (mm<tspan font-size="6.05" dy="-3.19">3</tspan><tspan dy="3.19">)</tspan></text>
<polyline points="37.5,460.33 47.5,451.92 66.5,458.49 81.5,462.43 101.5,473.07 115.5,477.01 135.5,476.74 150.5,480.29 169.5,480.68 184.5,483.44 203.5,482.92 218.5,483.83 238.5,485.15 252.5,484.75 272.5,485.15 287.5,478.98 306.5,482.52 321.5,484.75" fill="none" stroke="#0000ff" stroke-width="1.1" stroke-linejoin="round"/>
<rect x="35.3" y="458.13" width="4.4" height="4.4" fill="#0000ff"/>
<rect x="45.3" y="449.72" width="4.4" height="4.4" fill="#0000ff"/>
<rect x="64.3" y="456.29" width="4.4" height="4.4" fill="#0000ff"/>
<rect x="79.3" y="460.23" width="4.4" height="4.4" fill="#0000ff"/>
<rect x="99.3" y="470.87" width="4.4" height="4.4" fill="#0000ff"/>
<rect x="113.3" y="474.81" width="4.4" height="4.4" fill="#0000ff"/>
<rect x="133.3" y="474.54" width="4.4" height="4.4" fill="#0000ff"/>
<rect x="148.3" y="478.09" width="4.4" height="4.4" fill="#0000ff"/>
<rect x="167.3" y="478.48" width="4.4" height="4.4" fill="#0000ff"/>
<rect x="182.3" y="481.24" width="4.4" height="4.4" fill="#0000ff"/>
<rect x="201.3" y="480.72" width="4.4" height="4.4" fill="#0000ff"/>
<rect x="216.3" y="481.63" width="4.4" height="4.4" fill="#0000ff"/>
<rect x="236.3" y="482.95" width="4.4" height="4.4" fill="#0000ff"/>
<rect x="250.3" y="482.55" width="4.4" height="4.4" fill="#0000ff"/>
<rect x="270.3" y="482.95" width="4.4" height="4.4" fill="#0000ff"/>
<rect x="285.3" y="476.78" width="4.4" height="4.4" fill="#0000ff"/>
<rect x="304.3" y="480.32" width="4.4" height="4.4" fill="#0000ff"/>
<rect x="319.3" y="482.55" width="4.4" height="4.4" fill="#0000ff"/>
<polyline points="37.5,459.93 47.5,456.12 66.5,457.04 81.5,460.98 101.5,473.85 115.5,476.35 135.5,476.74 150.5,479.37 169.5,480.29 184.5,482.52 203.5,481.6 218.5,482.52 238.5,479.89 252.5,478.98 272.5,478.06 287.5,468.73 306.5,470.44 321.5,470.05" fill="none" stroke="#0000ff" stroke-width="1.1" stroke-linejoin="round"/>
<line x1="238.5" y1="479.89" x2="238.5" y2="475.82" stroke="#fff" stroke-width="0.9"/>
<line x1="238.5" y1="479.89" x2="238.5" y2="475.82" stroke="#0000ff" stroke-width="0.9"/>
<line x1="236.3" y1="475.82" x2="240.7" y2="475.82" stroke="#0000ff" stroke-width="0.9"/>
<line x1="252.5" y1="478.98" x2="252.5" y2="474.51" stroke="#fff" stroke-width="0.9"/>
<line x1="252.5" y1="478.98" x2="252.5" y2="474.51" stroke="#0000ff" stroke-width="0.9"/>
<line x1="250.3" y1="474.51" x2="254.7" y2="474.51" stroke="#0000ff" stroke-width="0.9"/>
<line x1="272.5" y1="478.06" x2="272.5" y2="473.2" stroke="#fff" stroke-width="0.9"/>
<line x1="272.5" y1="478.06" x2="272.5" y2="473.2" stroke="#0000ff" stroke-width="0.9"/>
<line x1="270.3" y1="473.2" x2="274.7" y2="473.2" stroke="#0000ff" stroke-width="0.9"/>
<line x1="287.5" y1="468.73" x2="287.5" y2="460.72" stroke="#fff" stroke-width="0.9"/>
<line x1="287.5" y1="468.73" x2="287.5" y2="460.72" stroke="#0000ff" stroke-width="0.9"/>
<line x1="285.3" y1="460.72" x2="289.7" y2="460.72" stroke="#0000ff" stroke-width="0.9"/>
<line x1="306.5" y1="470.44" x2="306.5" y2="464.27" stroke="#fff" stroke-width="0.9"/>
<line x1="306.5" y1="470.44" x2="306.5" y2="464.27" stroke="#0000ff" stroke-width="0.9"/>
<line x1="304.3" y1="464.27" x2="308.7" y2="464.27" stroke="#0000ff" stroke-width="0.9"/>
<line x1="321.5" y1="470.05" x2="321.5" y2="463.87" stroke="#fff" stroke-width="0.9"/>
<line x1="321.5" y1="470.05" x2="321.5" y2="463.87" stroke="#0000ff" stroke-width="0.9"/>
<line x1="319.3" y1="463.87" x2="323.7" y2="463.87" stroke="#0000ff" stroke-width="0.9"/>
<polygon points="37.5,462.46 39.92,457.91 35.08,457.91" fill="#0000ff"/>
<polygon points="47.5,458.65 49.92,454.1 45.08,454.1" fill="#0000ff"/>
<polygon points="66.5,459.57 68.92,455.02 64.08,455.02" fill="#0000ff"/>
<polygon points="81.5,463.51 83.92,458.96 79.08,458.96" fill="#0000ff"/>
<polygon points="101.5,476.38 103.92,471.83 99.08,471.83" fill="#0000ff"/>
<polygon points="115.5,478.88 117.92,474.32 113.08,474.32" fill="#0000ff"/>
<polygon points="135.5,479.27 137.92,474.72 133.08,474.72" fill="#0000ff"/>
<polygon points="150.5,481.9 152.92,477.35 148.08,477.35" fill="#0000ff"/>
<polygon points="169.5,482.82 171.92,478.26 167.08,478.26" fill="#0000ff"/>
<polygon points="184.5,485.05 186.92,480.5 182.08,480.5" fill="#0000ff"/>
<polygon points="203.5,484.13 205.92,479.58 201.08,479.58" fill="#0000ff"/>
<polygon points="218.5,485.05 220.92,480.5 216.08,480.5" fill="#0000ff"/>
<polygon points="238.5,482.42 240.92,477.87 236.08,477.87" fill="#0000ff"/>
<polygon points="252.5,481.51 254.92,476.95 250.08,476.95" fill="#0000ff"/>
<polygon points="272.5,480.59 274.92,476.03 270.08,476.03" fill="#0000ff"/>
<polygon points="287.5,471.26 289.92,466.71 285.08,466.71" fill="#0000ff"/>
<polygon points="306.5,472.97 308.92,468.42 304.08,468.42" fill="#0000ff"/>
<polygon points="321.5,472.58 323.92,468.02 319.08,468.02" fill="#0000ff"/>
<polyline points="37.5,459.93 47.5,451.13 66.5,457.7 81.5,458.49 101.5,461.38 115.5,460.33 135.5,459.41 150.5,453.63 169.5,451.79 184.5,455.34 203.5,449.16 218.5,444.7 238.5,444.17 252.5,440.23 272.5,443.78 287.5,438 306.5,430.38 321.5,432.62" fill="none" stroke="#0000ff" stroke-width="1.1" stroke-linejoin="round"/>
<line x1="37.5" y1="459.93" x2="37.5" y2="455.99" stroke="#fff" stroke-width="0.9"/>
<line x1="37.5" y1="459.93" x2="37.5" y2="455.99" stroke="#0000ff" stroke-width="0.9"/>
<line x1="35.3" y1="455.99" x2="39.7" y2="455.99" stroke="#0000ff" stroke-width="0.9"/>
<line x1="47.5" y1="451.13" x2="47.5" y2="446.54" stroke="#fff" stroke-width="0.9"/>
<line x1="47.5" y1="451.13" x2="47.5" y2="446.54" stroke="#0000ff" stroke-width="0.9"/>
<line x1="45.3" y1="446.54" x2="49.7" y2="446.54" stroke="#0000ff" stroke-width="0.9"/>
<line x1="81.5" y1="458.49" x2="81.5" y2="454.81" stroke="#fff" stroke-width="0.9"/>
<line x1="81.5" y1="458.49" x2="81.5" y2="454.81" stroke="#0000ff" stroke-width="0.9"/>
<line x1="79.3" y1="454.81" x2="83.7" y2="454.81" stroke="#0000ff" stroke-width="0.9"/>
<line x1="101.5" y1="461.38" x2="101.5" y2="456.52" stroke="#fff" stroke-width="0.9"/>
<line x1="101.5" y1="461.38" x2="101.5" y2="456.52" stroke="#0000ff" stroke-width="0.9"/>
<line x1="99.3" y1="456.52" x2="103.7" y2="456.52" stroke="#0000ff" stroke-width="0.9"/>
<line x1="115.5" y1="460.33" x2="115.5" y2="454.42" stroke="#fff" stroke-width="0.9"/>
<line x1="115.5" y1="460.33" x2="115.5" y2="454.42" stroke="#0000ff" stroke-width="0.9"/>
<line x1="113.3" y1="454.42" x2="117.7" y2="454.42" stroke="#0000ff" stroke-width="0.9"/>
<line x1="135.5" y1="459.41" x2="135.5" y2="451.79" stroke="#fff" stroke-width="0.9"/>
<line x1="135.5" y1="459.41" x2="135.5" y2="451.79" stroke="#0000ff" stroke-width="0.9"/>
<line x1="133.3" y1="451.79" x2="137.7" y2="451.79" stroke="#0000ff" stroke-width="0.9"/>
<line x1="150.5" y1="453.63" x2="150.5" y2="444.7" stroke="#fff" stroke-width="0.9"/>
<line x1="150.5" y1="453.63" x2="150.5" y2="444.7" stroke="#0000ff" stroke-width="0.9"/>
<line x1="148.3" y1="444.7" x2="152.7" y2="444.7" stroke="#0000ff" stroke-width="0.9"/>
<line x1="169.5" y1="451.79" x2="169.5" y2="442.47" stroke="#fff" stroke-width="0.9"/>
<line x1="169.5" y1="451.79" x2="169.5" y2="442.47" stroke="#0000ff" stroke-width="0.9"/>
<line x1="167.3" y1="442.47" x2="171.7" y2="442.47" stroke="#0000ff" stroke-width="0.9"/>
<line x1="184.5" y1="455.34" x2="184.5" y2="446.01" stroke="#fff" stroke-width="0.9"/>
<line x1="184.5" y1="455.34" x2="184.5" y2="446.01" stroke="#0000ff" stroke-width="0.9"/>
<line x1="182.3" y1="446.01" x2="186.7" y2="446.01" stroke="#0000ff" stroke-width="0.9"/>
<line x1="203.5" y1="449.16" x2="203.5" y2="438" stroke="#fff" stroke-width="0.9"/>
<line x1="203.5" y1="449.16" x2="203.5" y2="438" stroke="#0000ff" stroke-width="0.9"/>
<line x1="201.3" y1="438" x2="205.7" y2="438" stroke="#0000ff" stroke-width="0.9"/>
<line x1="218.5" y1="444.7" x2="218.5" y2="432.22" stroke="#fff" stroke-width="0.9"/>
<line x1="218.5" y1="444.7" x2="218.5" y2="432.22" stroke="#0000ff" stroke-width="0.9"/>
<line x1="216.3" y1="432.22" x2="220.7" y2="432.22" stroke="#0000ff" stroke-width="0.9"/>
<line x1="238.5" y1="444.17" x2="238.5" y2="431.7" stroke="#fff" stroke-width="0.9"/>
<line x1="238.5" y1="444.17" x2="238.5" y2="431.7" stroke="#0000ff" stroke-width="0.9"/>
<line x1="236.3" y1="431.7" x2="240.7" y2="431.7" stroke="#0000ff" stroke-width="0.9"/>
<line x1="252.5" y1="440.23" x2="252.5" y2="426.84" stroke="#fff" stroke-width="0.9"/>
<line x1="252.5" y1="440.23" x2="252.5" y2="426.84" stroke="#0000ff" stroke-width="0.9"/>
<line x1="250.3" y1="426.84" x2="254.7" y2="426.84" stroke="#0000ff" stroke-width="0.9"/>
<line x1="272.5" y1="443.78" x2="272.5" y2="431.3" stroke="#fff" stroke-width="0.9"/>
<line x1="272.5" y1="443.78" x2="272.5" y2="431.3" stroke="#0000ff" stroke-width="0.9"/>
<line x1="270.3" y1="431.3" x2="274.7" y2="431.3" stroke="#0000ff" stroke-width="0.9"/>
<line x1="287.5" y1="438" x2="287.5" y2="425.52" stroke="#fff" stroke-width="0.9"/>
<line x1="287.5" y1="438" x2="287.5" y2="425.52" stroke="#0000ff" stroke-width="0.9"/>
<line x1="285.3" y1="425.52" x2="289.7" y2="425.52" stroke="#0000ff" stroke-width="0.9"/>
<line x1="306.5" y1="430.38" x2="306.5" y2="415.67" stroke="#fff" stroke-width="0.9"/>
<line x1="306.5" y1="430.38" x2="306.5" y2="415.67" stroke="#0000ff" stroke-width="0.9"/>
<line x1="304.3" y1="415.67" x2="308.7" y2="415.67" stroke="#0000ff" stroke-width="0.9"/>
<line x1="321.5" y1="432.62" x2="321.5" y2="418.43" stroke="#fff" stroke-width="0.9"/>
<line x1="321.5" y1="432.62" x2="321.5" y2="418.43" stroke="#0000ff" stroke-width="0.9"/>
<line x1="319.3" y1="418.43" x2="323.7" y2="418.43" stroke="#0000ff" stroke-width="0.9"/>
<polygon points="37.5,457.4 39.92,461.96 35.08,461.96" fill="#0000ff"/>
<polygon points="47.5,448.6 49.92,453.16 45.08,453.16" fill="#0000ff"/>
<polygon points="66.5,455.17 68.92,459.72 64.08,459.72" fill="#0000ff"/>
<polygon points="81.5,455.96 83.92,460.51 79.08,460.51" fill="#0000ff"/>
<polygon points="101.5,458.85 103.92,463.4 99.08,463.4" fill="#0000ff"/>
<polygon points="115.5,457.8 117.92,462.35 113.08,462.35" fill="#0000ff"/>
<polygon points="135.5,456.88 137.92,461.43 133.08,461.43" fill="#0000ff"/>
<polygon points="150.5,451.1 152.92,455.65 148.08,455.65" fill="#0000ff"/>
<polygon points="169.5,449.26 171.92,453.81 167.08,453.81" fill="#0000ff"/>
<polygon points="184.5,452.81 186.92,457.36 182.08,457.36" fill="#0000ff"/>
<polygon points="203.5,446.63 205.92,451.19 201.08,451.19" fill="#0000ff"/>
<polygon points="218.5,442.17 220.92,446.72 216.08,446.72" fill="#0000ff"/>
<polygon points="238.5,441.64 240.92,446.2 236.08,446.2" fill="#0000ff"/>
<polygon points="252.5,437.7 254.92,442.26 250.08,442.26" fill="#0000ff"/>
<polygon points="272.5,441.25 274.92,445.8 270.08,445.8" fill="#0000ff"/>
<polygon points="287.5,435.47 289.92,440.02 285.08,440.02" fill="#0000ff"/>
<polygon points="306.5,427.85 308.92,432.41 304.08,432.41" fill="#0000ff"/>
<polygon points="321.5,430.09 323.92,434.64 319.08,434.64" fill="#0000ff"/>
<polyline points="37.5,464.66 47.5,455.99 66.5,450.74 81.5,445.36 101.5,441.68 115.5,435.77 135.5,429.07 150.5,417.12 169.5,407.27 184.5,409.11 203.5,409.11 218.5,395.19 238.5,384.55 252.5,386.39 272.5,382.32 287.5,368.53 306.5,360.52 321.5,341.34" fill="none" stroke="#000" stroke-width="1.1" stroke-linejoin="round"/>
<line x1="101.5" y1="441.68" x2="101.5" y2="438" stroke="#fff" stroke-width="0.9"/>
<line x1="101.5" y1="441.68" x2="101.5" y2="438" stroke="#000" stroke-width="0.9"/>
<line x1="99.3" y1="438" x2="103.7" y2="438" stroke="#000" stroke-width="0.9"/>
<line x1="115.5" y1="435.77" x2="115.5" y2="433.14" stroke="#fff" stroke-width="0.9"/>
<line x1="115.5" y1="435.77" x2="115.5" y2="433.14" stroke="#000" stroke-width="0.9"/>
<line x1="113.3" y1="433.14" x2="117.7" y2="433.14" stroke="#000" stroke-width="0.9"/>
<line x1="135.5" y1="429.07" x2="135.5" y2="425.13" stroke="#fff" stroke-width="0.9"/>
<line x1="135.5" y1="429.07" x2="135.5" y2="425.13" stroke="#000" stroke-width="0.9"/>
<line x1="133.3" y1="425.13" x2="137.7" y2="425.13" stroke="#000" stroke-width="0.9"/>
<line x1="150.5" y1="417.12" x2="150.5" y2="413.44" stroke="#fff" stroke-width="0.9"/>
<line x1="150.5" y1="417.12" x2="150.5" y2="413.44" stroke="#000" stroke-width="0.9"/>
<line x1="148.3" y1="413.44" x2="152.7" y2="413.44" stroke="#000" stroke-width="0.9"/>
<line x1="169.5" y1="407.27" x2="169.5" y2="402.41" stroke="#fff" stroke-width="0.9"/>
<line x1="169.5" y1="407.27" x2="169.5" y2="402.41" stroke="#000" stroke-width="0.9"/>
<line x1="167.3" y1="402.41" x2="171.7" y2="402.41" stroke="#000" stroke-width="0.9"/>
<line x1="184.5" y1="409.11" x2="184.5" y2="404.12" stroke="#fff" stroke-width="0.9"/>
<line x1="184.5" y1="409.11" x2="184.5" y2="404.12" stroke="#000" stroke-width="0.9"/>
<line x1="182.3" y1="404.12" x2="186.7" y2="404.12" stroke="#000" stroke-width="0.9"/>
<line x1="203.5" y1="409.11" x2="203.5" y2="401.88" stroke="#fff" stroke-width="0.9"/>
<line x1="203.5" y1="409.11" x2="203.5" y2="401.88" stroke="#000" stroke-width="0.9"/>
<line x1="201.3" y1="401.88" x2="205.7" y2="401.88" stroke="#000" stroke-width="0.9"/>
<line x1="218.5" y1="395.19" x2="218.5" y2="388.1" stroke="#fff" stroke-width="0.9"/>
<line x1="218.5" y1="395.19" x2="218.5" y2="388.1" stroke="#000" stroke-width="0.9"/>
<line x1="216.3" y1="388.1" x2="220.7" y2="388.1" stroke="#000" stroke-width="0.9"/>
<line x1="238.5" y1="384.55" x2="238.5" y2="378.38" stroke="#fff" stroke-width="0.9"/>
<line x1="238.5" y1="384.55" x2="238.5" y2="378.38" stroke="#000" stroke-width="0.9"/>
<line x1="236.3" y1="378.38" x2="240.7" y2="378.38" stroke="#000" stroke-width="0.9"/>
<line x1="252.5" y1="386.39" x2="252.5" y2="375.62" stroke="#fff" stroke-width="0.9"/>
<line x1="252.5" y1="386.39" x2="252.5" y2="375.62" stroke="#000" stroke-width="0.9"/>
<line x1="250.3" y1="375.62" x2="254.7" y2="375.62" stroke="#000" stroke-width="0.9"/>
<line x1="272.5" y1="382.32" x2="272.5" y2="370.37" stroke="#fff" stroke-width="0.9"/>
<line x1="272.5" y1="382.32" x2="272.5" y2="370.37" stroke="#000" stroke-width="0.9"/>
<line x1="270.3" y1="370.37" x2="274.7" y2="370.37" stroke="#000" stroke-width="0.9"/>
<line x1="287.5" y1="368.53" x2="287.5" y2="353.82" stroke="#fff" stroke-width="0.9"/>
<line x1="287.5" y1="368.53" x2="287.5" y2="353.82" stroke="#000" stroke-width="0.9"/>
<line x1="285.3" y1="353.82" x2="289.7" y2="353.82" stroke="#000" stroke-width="0.9"/>
<line x1="306.5" y1="360.52" x2="306.5" y2="346.73" stroke="#fff" stroke-width="0.9"/>
<line x1="306.5" y1="360.52" x2="306.5" y2="346.73" stroke="#000" stroke-width="0.9"/>
<line x1="304.3" y1="346.73" x2="308.7" y2="346.73" stroke="#000" stroke-width="0.9"/>
<line x1="321.5" y1="341.34" x2="321.5" y2="328.87" stroke="#fff" stroke-width="0.9"/>
<line x1="321.5" y1="341.34" x2="321.5" y2="328.87" stroke="#000" stroke-width="0.9"/>
<line x1="319.3" y1="328.87" x2="323.7" y2="328.87" stroke="#000" stroke-width="0.9"/>
<circle cx="37.5" cy="464.66" r="2.2" fill="#000"/>
<circle cx="47.5" cy="455.99" r="2.2" fill="#000"/>
<circle cx="66.5" cy="450.74" r="2.2" fill="#000"/>
<circle cx="81.5" cy="445.36" r="2.2" fill="#000"/>
<circle cx="101.5" cy="441.68" r="2.2" fill="#000"/>
<circle cx="115.5" cy="435.77" r="2.2" fill="#000"/>
<circle cx="135.5" cy="429.07" r="2.2" fill="#000"/>
<circle cx="150.5" cy="417.12" r="2.2" fill="#000"/>
<circle cx="169.5" cy="407.27" r="2.2" fill="#000"/>
<circle cx="184.5" cy="409.11" r="2.2" fill="#000"/>
<circle cx="203.5" cy="409.11" r="2.2" fill="#000"/>
<circle cx="218.5" cy="395.19" r="2.2" fill="#000"/>
<circle cx="238.5" cy="384.55" r="2.2" fill="#000"/>
<circle cx="252.5" cy="386.39" r="2.2" fill="#000"/>
<circle cx="272.5" cy="382.32" r="2.2" fill="#000"/>
<circle cx="287.5" cy="368.53" r="2.2" fill="#000"/>
<circle cx="306.5" cy="360.52" r="2.2" fill="#000"/>
<circle cx="321.5" cy="341.34" r="2.2" fill="#000"/>
<line x1="49.2" y1="302" x2="59.5" y2="302" stroke="#000" stroke-width="0.8"/>
<circle cx="54.3" cy="302" r="1.9" fill="#000"/>
<text x="66" y="305" font-size="7.91" font-weight="bold" text-anchor="start" fill="#000" font-family='"Liberation Sans", sans-serif' textLength="28.71" lengthAdjust="spacingAndGlyphs">Vehicle</text>
<line x1="49.2" y1="311.8" x2="59.5" y2="311.8" stroke="#0000ff" stroke-width="0.8"/>
<polygon points="54.3,309.62 56.39,313.55 52.21,313.55" fill="#0000ff"/>
<text x="66" y="314.8" font-size="7.91" font-weight="bold" text-anchor="start" fill="#000" font-family='"Liberation Sans", sans-serif' textLength="129.01" lengthAdjust="spacingAndGlyphs">GQ1001 5 mg/kg, single dose i.v.</text>
<line x1="49.2" y1="320.7" x2="59.5" y2="320.7" stroke="#0000ff" stroke-width="0.8"/>
<polygon points="54.3,322.88 56.39,318.95 52.21,318.95" fill="#0000ff"/>
<text x="66" y="323.7" font-size="7.91" font-weight="bold" text-anchor="start" fill="#000" font-family='"Liberation Sans", sans-serif' textLength="133.64" lengthAdjust="spacingAndGlyphs">GQ1001 10 mg/kg, single dose i.v.</text>
<line x1="49.2" y1="330" x2="59.5" y2="330" stroke="#0000ff" stroke-width="0.8"/>
<rect x="52.4" y="328.1" width="3.8" height="3.8" fill="#0000ff"/>
<text x="66" y="333" font-size="7.91" font-weight="bold" text-anchor="start" fill="#000" font-family='"Liberation Sans", sans-serif' textLength="133.64" lengthAdjust="spacingAndGlyphs">GQ1001 15 mg/kg, single dose i.v.</text>
<line x1="414.9" y1="314.65" x2="414.9" y2="489.8" stroke="#000" stroke-width="1.3"/>
<line x1="410.4" y1="485.3" x2="664.55" y2="485.3" stroke="#000" stroke-width="1.3"/>
<line x1="410.4" y1="485.3" x2="414.9" y2="485.3" stroke="#000" stroke-width="1.3"/>
<text x="407.4" y="489.2" font-size="11" font-weight="bold" text-anchor="end" fill="#000" font-family='"Liberation Sans", sans-serif'>0</text>
<line x1="410.4" y1="451.3" x2="414.9" y2="451.3" stroke="#000" stroke-width="1.3"/>
<text x="407.4" y="455.2" font-size="11" font-weight="bold" text-anchor="end" fill="#000" font-family='"Liberation Sans", sans-serif'>500</text>
<line x1="410.4" y1="417.3" x2="414.9" y2="417.3" stroke="#000" stroke-width="1.3"/>
<text x="407.4" y="421.2" font-size="11" font-weight="bold" text-anchor="end" fill="#000" font-family='"Liberation Sans", sans-serif'>1000</text>
<line x1="410.4" y1="383.3" x2="414.9" y2="383.3" stroke="#000" stroke-width="1.3"/>
<text x="407.4" y="387.2" font-size="11" font-weight="bold" text-anchor="end" fill="#000" font-family='"Liberation Sans", sans-serif'>1500</text>
<line x1="410.4" y1="349.3" x2="414.9" y2="349.3" stroke="#000" stroke-width="1.3"/>
<text x="407.4" y="353.2" font-size="11" font-weight="bold" text-anchor="end" fill="#000" font-family='"Liberation Sans", sans-serif'>2000</text>
<line x1="410.4" y1="315.3" x2="414.9" y2="315.3" stroke="#000" stroke-width="1.3"/>
<text x="407.4" y="319.2" font-size="11" font-weight="bold" text-anchor="end" fill="#000" font-family='"Liberation Sans", sans-serif'>2500</text>
<line x1="414.9" y1="485.3" x2="414.9" y2="489.8" stroke="#000" stroke-width="1.3"/>
<text x="414.9" y="503.1" font-size="11" font-weight="bold" text-anchor="middle" fill="#000" font-family='"Liberation Sans", sans-serif'>0</text>
<line x1="456.4" y1="485.3" x2="456.4" y2="489.8" stroke="#000" stroke-width="1.3"/>
<text x="456.4" y="503.1" font-size="11" font-weight="bold" text-anchor="middle" fill="#000" font-family='"Liberation Sans", sans-serif'>5</text>
<line x1="497.9" y1="485.3" x2="497.9" y2="489.8" stroke="#000" stroke-width="1.3"/>
<text x="497.9" y="503.1" font-size="11" font-weight="bold" text-anchor="middle" fill="#000" font-family='"Liberation Sans", sans-serif'>10</text>
<line x1="539.4" y1="485.3" x2="539.4" y2="489.8" stroke="#000" stroke-width="1.3"/>
<text x="539.4" y="503.1" font-size="11" font-weight="bold" text-anchor="middle" fill="#000" font-family='"Liberation Sans", sans-serif'>15</text>
<line x1="580.9" y1="485.3" x2="580.9" y2="489.8" stroke="#000" stroke-width="1.3"/>
<text x="580.9" y="503.1" font-size="11" font-weight="bold" text-anchor="middle" fill="#000" font-family='"Liberation Sans", sans-serif'>20</text>
<line x1="622.4" y1="485.3" x2="622.4" y2="489.8" stroke="#000" stroke-width="1.3"/>
<text x="622.4" y="503.1" font-size="11" font-weight="bold" text-anchor="middle" fill="#000" font-family='"Liberation Sans", sans-serif'>25</text>
<line x1="663.9" y1="485.3" x2="663.9" y2="489.8" stroke="#000" stroke-width="1.3"/>
<text x="663.9" y="503.1" font-size="11" font-weight="bold" text-anchor="middle" fill="#000" font-family='"Liberation Sans", sans-serif'>30</text>
<text x="394.3" y="274.8" font-size="11.02" font-weight="bold" text-anchor="start" fill="#000" font-family='"Liberation Sans", sans-serif' textLength="270" lengthAdjust="spacingAndGlyphs">LD1-0038-361855 colorectal cancer PDX model</text>
<text x="348.2" y="275.2" font-size="17.8" font-weight="normal" text-anchor="start" fill="#000" font-family='"Liberation Sans", sans-serif'>D</text>
<text x="539.4" y="519.2" font-size="11.8" font-weight="bold" text-anchor="middle" fill="#000" font-family='"Liberation Sans", sans-serif' textLength="144" lengthAdjust="spacingAndGlyphs">Days post administration</text>
<text transform="translate(366.3,399.8) rotate(-90)" font-size="13.6" font-weight="bold" text-anchor="middle" font-family='"Liberation Sans", sans-serif' fill="#000">Tumor volume (mm<tspan font-size="9.79" dy="-5.17">3</tspan><tspan dy="5.17">)</tspan></text>
<polyline points="414.5,476.94 439.5,478.02 473.5,483.12 497.5,485.3 531.5,485.3 556.5,485.3 589.5,485.3 614.5,485.3 647.5,485.3" fill="none" stroke="#ff0000" stroke-width="1" stroke-linejoin="round"/>
<rect x="411.8" y="474.24" width="5.4" height="5.4" fill="#ff0000"/>
<rect x="436.8" y="475.32" width="5.4" height="5.4" fill="#ff0000"/>
<rect x="470.8" y="480.42" width="5.4" height="5.4" fill="#ff0000"/>
<rect x="494.8" y="482.6" width="5.4" height="5.4" fill="#ff0000"/>
<rect x="528.8" y="482.6" width="5.4" height="5.4" fill="#ff0000"/>
<rect x="553.8" y="482.6" width="5.4" height="5.4" fill="#ff0000"/>
<rect x="586.8" y="482.6" width="5.4" height="5.4" fill="#ff0000"/>
<rect x="611.8" y="482.6" width="5.4" height="5.4" fill="#ff0000"/>
<rect x="644.8" y="482.6" width="5.4" height="5.4" fill="#ff0000"/>
<polyline points="414.5,476.94 439.5,477.48 473.5,478.02 497.5,481.7 531.5,483.12 556.5,483.53 589.5,483.87 614.5,484.21 647.5,484.62" fill="none" stroke="#0000ff" stroke-width="1" stroke-linejoin="round"/>
<rect x="411.8" y="474.24" width="5.4" height="5.4" fill="#0000ff"/>
<rect x="436.8" y="474.78" width="5.4" height="5.4" fill="#0000ff"/>
<rect x="470.8" y="475.32" width="5.4" height="5.4" fill="#0000ff"/>
<rect x="494.8" y="479" width="5.4" height="5.4" fill="#0000ff"/>
<rect x="528.8" y="480.42" width="5.4" height="5.4" fill="#0000ff"/>
<rect x="553.8" y="480.83" width="5.4" height="5.4" fill="#0000ff"/>
<rect x="586.8" y="481.17" width="5.4" height="5.4" fill="#0000ff"/>
<rect x="611.8" y="481.51" width="5.4" height="5.4" fill="#0000ff"/>
<rect x="644.8" y="481.92" width="5.4" height="5.4" fill="#0000ff"/>
<polyline points="414.5,476.94 439.5,477.14 473.5,478.43 497.5,480.61 531.5,481.29 556.5,481.56 589.5,480.95 614.5,479.11 647.5,475.51" fill="none" stroke="#0000ff" stroke-width="1" stroke-linejoin="round"/>
<line x1="647.5" y1="475.51" x2="647.5" y2="473.33" stroke="#fff" stroke-width="1"/>
<line x1="647.5" y1="475.51" x2="647.5" y2="473.33" stroke="#0000ff" stroke-width="1"/>
<line x1="645.3" y1="473.33" x2="649.7" y2="473.33" stroke="#0000ff" stroke-width="1"/>
<polygon points="414.5,480.04 417.47,474.45 411.53,474.45" fill="#0000ff"/>
<polygon points="439.5,480.25 442.47,474.66 436.53,474.66" fill="#0000ff"/>
<polygon points="473.5,481.54 476.47,475.95 470.53,475.95" fill="#0000ff"/>
<polygon points="497.5,483.71 500.47,478.12 494.53,478.12" fill="#0000ff"/>
<polygon points="531.5,484.39 534.47,478.8 528.53,478.8" fill="#0000ff"/>
<polygon points="556.5,484.67 559.47,479.08 553.53,479.08" fill="#0000ff"/>
<polygon points="589.5,484.05 592.47,478.46 586.53,478.46" fill="#0000ff"/>
<polygon points="614.5,482.22 617.47,476.63 611.53,476.63" fill="#0000ff"/>
<polygon points="647.5,478.61 650.47,473.02 644.53,473.02" fill="#0000ff"/>
<polyline points="414.5,476.94 439.5,476.8 473.5,477.68 497.5,478.02 531.5,476.94 556.5,472.92 589.5,469.25 614.5,463.4 647.5,452.86" fill="none" stroke="#0000ff" stroke-width="1" stroke-linejoin="round"/>
<line x1="531.5" y1="476.94" x2="531.5" y2="474.42" stroke="#fff" stroke-width="1"/>
<line x1="531.5" y1="476.94" x2="531.5" y2="474.42" stroke="#0000ff" stroke-width="1"/>
<line x1="529.3" y1="474.42" x2="533.7" y2="474.42" stroke="#0000ff" stroke-width="1"/>
<line x1="556.5" y1="472.92" x2="556.5" y2="469.25" stroke="#fff" stroke-width="1"/>
<line x1="556.5" y1="472.92" x2="556.5" y2="469.25" stroke="#0000ff" stroke-width="1"/>
<line x1="554.3" y1="469.25" x2="558.7" y2="469.25" stroke="#0000ff" stroke-width="1"/>
<line x1="589.5" y1="469.25" x2="589.5" y2="464.15" stroke="#fff" stroke-width="1"/>
<line x1="589.5" y1="469.25" x2="589.5" y2="464.15" stroke="#0000ff" stroke-width="1"/>
<line x1="587.3" y1="464.15" x2="591.7" y2="464.15" stroke="#0000ff" stroke-width="1"/>
<line x1="614.5" y1="463.4" x2="614.5" y2="457.22" stroke="#fff" stroke-width="1"/>
<line x1="614.5" y1="463.4" x2="614.5" y2="457.22" stroke="#0000ff" stroke-width="1"/>
<line x1="612.3" y1="457.22" x2="616.7" y2="457.22" stroke="#0000ff" stroke-width="1"/>
<line x1="647.5" y1="452.86" x2="647.5" y2="443.75" stroke="#fff" stroke-width="1"/>
<line x1="647.5" y1="452.86" x2="647.5" y2="443.75" stroke="#0000ff" stroke-width="1"/>
<line x1="645.3" y1="443.75" x2="649.7" y2="443.75" stroke="#0000ff" stroke-width="1"/>
<polygon points="414.5,473.83 417.47,479.42 411.53,479.42" fill="#0000ff"/>
<polygon points="439.5,473.69 442.47,479.28 436.53,479.28" fill="#0000ff"/>
<polygon points="473.5,474.58 476.47,480.17 470.53,480.17" fill="#0000ff"/>
<polygon points="497.5,474.92 500.47,480.51 494.53,480.51" fill="#0000ff"/>
<polygon points="531.5,473.83 534.47,479.42 528.53,479.42" fill="#0000ff"/>
<polygon points="556.5,469.82 559.47,475.41 553.53,475.41" fill="#0000ff"/>
<polygon points="589.5,466.15 592.47,471.74 586.53,471.74" fill="#0000ff"/>
<polygon points="614.5,460.3 617.47,465.89 611.53,465.89" fill="#0000ff"/>
<polygon points="647.5,449.76 650.47,455.35 644.53,455.35" fill="#0000ff"/>
<polyline points="414.5,476.94 439.5,474.42 473.5,469.66 497.5,460.55 531.5,449.6 556.5,437.16 589.5,419.27 614.5,399.55 647.5,376.57" fill="none" stroke="#000" stroke-width="1" stroke-linejoin="round"/>
<line x1="473.5" y1="469.66" x2="473.5" y2="465.24" stroke="#fff" stroke-width="1"/>
<line x1="473.5" y1="469.66" x2="473.5" y2="465.24" stroke="#000" stroke-width="1"/>
<line x1="471.3" y1="465.24" x2="475.7" y2="465.24" stroke="#000" stroke-width="1"/>
<line x1="497.5" y1="460.55" x2="497.5" y2="452.86" stroke="#fff" stroke-width="1"/>
<line x1="497.5" y1="460.55" x2="497.5" y2="452.86" stroke="#000" stroke-width="1"/>
<line x1="495.3" y1="452.86" x2="499.7" y2="452.86" stroke="#000" stroke-width="1"/>
<line x1="531.5" y1="449.6" x2="531.5" y2="437.9" stroke="#fff" stroke-width="1"/>
<line x1="531.5" y1="449.6" x2="531.5" y2="437.9" stroke="#000" stroke-width="1"/>
<line x1="529.3" y1="437.9" x2="533.7" y2="437.9" stroke="#000" stroke-width="1"/>
<line x1="556.5" y1="437.16" x2="556.5" y2="421.45" stroke="#fff" stroke-width="1"/>
<line x1="556.5" y1="437.16" x2="556.5" y2="421.45" stroke="#000" stroke-width="1"/>
<line x1="554.3" y1="421.45" x2="558.7" y2="421.45" stroke="#000" stroke-width="1"/>
<line x1="589.5" y1="419.27" x2="589.5" y2="397.72" stroke="#fff" stroke-width="1"/>
<line x1="589.5" y1="419.27" x2="589.5" y2="397.72" stroke="#000" stroke-width="1"/>
<line x1="587.3" y1="397.72" x2="591.7" y2="397.72" stroke="#000" stroke-width="1"/>
<line x1="614.5" y1="399.55" x2="614.5" y2="374.73" stroke="#fff" stroke-width="1"/>
<line x1="614.5" y1="399.55" x2="614.5" y2="374.73" stroke="#000" stroke-width="1"/>
<line x1="612.3" y1="374.73" x2="616.7" y2="374.73" stroke="#000" stroke-width="1"/>
<line x1="647.5" y1="376.57" x2="647.5" y2="345.9" stroke="#fff" stroke-width="1"/>
<line x1="647.5" y1="376.57" x2="647.5" y2="345.9" stroke="#000" stroke-width="1"/>
<line x1="645.3" y1="345.9" x2="649.7" y2="345.9" stroke="#000" stroke-width="1"/>
<circle cx="414.5" cy="476.94" r="2.7" fill="#000"/>
<circle cx="439.5" cy="474.42" r="2.7" fill="#000"/>
<circle cx="473.5" cy="469.66" r="2.7" fill="#000"/>
<circle cx="497.5" cy="460.55" r="2.7" fill="#000"/>
<circle cx="531.5" cy="449.6" r="2.7" fill="#000"/>
<circle cx="556.5" cy="437.16" r="2.7" fill="#000"/>
<circle cx="589.5" cy="419.27" r="2.7" fill="#000"/>
<circle cx="614.5" cy="399.55" r="2.7" fill="#000"/>
<circle cx="647.5" cy="376.57" r="2.7" fill="#000"/>
<line x1="426.1" y1="294.9" x2="443.8" y2="294.9" stroke="#000" stroke-width="1.1"/>
<circle cx="435" cy="294.9" r="2.6" fill="#000"/>
<text x="454.3" y="298.1" font-size="9.1" font-weight="bold" text-anchor="start" fill="#000" font-family='"Liberation Sans", sans-serif' textLength="33.02" lengthAdjust="spacingAndGlyphs">Vehicle</text>
<line x1="426.1" y1="310.1" x2="443.8" y2="310.1" stroke="#0000ff" stroke-width="1.1"/>
<polygon points="435,307.11 437.86,312.49 432.14,312.49" fill="#0000ff"/>
<text x="454.3" y="313.3" font-size="9.1" font-weight="bold" text-anchor="start" fill="#000" font-family='"Liberation Sans", sans-serif' textLength="153.69" lengthAdjust="spacingAndGlyphs">GQ1001, 5 mg/kg, single dose, i.v.</text>
<line x1="426.1" y1="326.3" x2="443.8" y2="326.3" stroke="#0000ff" stroke-width="1.1"/>
<polygon points="435,329.29 437.86,323.91 432.14,323.91" fill="#0000ff"/>
<text x="454.3" y="329.5" font-size="9.1" font-weight="bold" text-anchor="start" fill="#000" font-family='"Liberation Sans", sans-serif' textLength="161.68" lengthAdjust="spacingAndGlyphs">GQ1001, 10 mg/kg, single dose,  i.v.</text>
<line x1="426.1" y1="341.9" x2="443.8" y2="341.9" stroke="#0000ff" stroke-width="1.1"/>
<rect x="432.4" y="339.3" width="5.2" height="5.2" fill="#0000ff"/>
<text x="454.3" y="345.1" font-size="9.1" font-weight="bold" text-anchor="start" fill="#000" font-family='"Liberation Sans", sans-serif' textLength="161.68" lengthAdjust="spacingAndGlyphs">GQ1001, 15 mg/kg, single dose,  i.v.</text>
<line x1="426.1" y1="356.8" x2="443.8" y2="356.8" stroke="#ff0000" stroke-width="1.1"/>
<rect x="432.4" y="354.2" width="5.2" height="5.2" fill="#ff0000"/>
<text x="456.2" y="360" font-size="9.1" font-weight="bold" text-anchor="start" fill="#000" font-family='"Liberation Sans", sans-serif' textLength="161.13" lengthAdjust="spacingAndGlyphs">T-DXd   , 10 mg/kg, single dose,  i.v.</text>
<line x1="37.4" y1="554.1" x2="37.4" y2="755.1" stroke="#000" stroke-width="1.2"/>
<line x1="34.6" y1="752.3" x2="334.58" y2="752.3" stroke="#000" stroke-width="1.2"/>
<line x1="34.6" y1="752.3" x2="37.4" y2="752.3" stroke="#000" stroke-width="1.2"/>
<text x="30.6" y="755.2" font-size="8" font-weight="bold" text-anchor="end" fill="#000" font-family='"Liberation Sans", sans-serif'>0</text>
<line x1="34.6" y1="712.78" x2="37.4" y2="712.78" stroke="#000" stroke-width="1.2"/>
<text x="30.6" y="715.68" font-size="8" font-weight="bold" text-anchor="end" fill="#000" font-family='"Liberation Sans", sans-serif'>200</text>
<line x1="34.6" y1="673.26" x2="37.4" y2="673.26" stroke="#000" stroke-width="1.2"/>
<text x="30.6" y="676.16" font-size="8" font-weight="bold" text-anchor="end" fill="#000" font-family='"Liberation Sans", sans-serif'>400</text>
<line x1="34.6" y1="633.74" x2="37.4" y2="633.74" stroke="#000" stroke-width="1.2"/>
<text x="30.6" y="636.64" font-size="8" font-weight="bold" text-anchor="end" fill="#000" font-family='"Liberation Sans", sans-serif'>600</text>
<line x1="34.6" y1="594.22" x2="37.4" y2="594.22" stroke="#000" stroke-width="1.2"/>
<text x="30.6" y="597.12" font-size="8" font-weight="bold" text-anchor="end" fill="#000" font-family='"Liberation Sans", sans-serif'>800</text>
<line x1="34.6" y1="554.7" x2="37.4" y2="554.7" stroke="#000" stroke-width="1.2"/>
<text x="30.6" y="557.6" font-size="8" font-weight="bold" text-anchor="end" fill="#000" font-family='"Liberation Sans", sans-serif'>1000</text>
<line x1="35.72" y1="732.54" x2="37.4" y2="732.54" stroke="#000" stroke-width="1.2"/>
<line x1="35.72" y1="693.02" x2="37.4" y2="693.02" stroke="#000" stroke-width="1.2"/>
<line x1="35.72" y1="653.5" x2="37.4" y2="653.5" stroke="#000" stroke-width="1.2"/>
<line x1="35.72" y1="613.98" x2="37.4" y2="613.98" stroke="#000" stroke-width="1.2"/>
<line x1="35.72" y1="574.46" x2="37.4" y2="574.46" stroke="#000" stroke-width="1.2"/>
<line x1="37.4" y1="752.3" x2="37.4" y2="755.1" stroke="#000" stroke-width="1.2"/>
<text x="37.4" y="767.3" font-size="8" font-weight="bold" text-anchor="middle" fill="#000" font-family='"Liberation Sans", sans-serif'>0</text>
<line x1="62.11" y1="752.3" x2="62.11" y2="755.1" stroke="#000" stroke-width="1.2"/>
<text x="62.11" y="767.3" font-size="8" font-weight="bold" text-anchor="middle" fill="#000" font-family='"Liberation Sans", sans-serif'>5</text>
<line x1="86.83" y1="752.3" x2="86.83" y2="755.1" stroke="#000" stroke-width="1.2"/>
<text x="86.83" y="767.3" font-size="8" font-weight="bold" text-anchor="middle" fill="#000" font-family='"Liberation Sans", sans-serif'>10</text>
<line x1="111.54" y1="752.3" x2="111.54" y2="755.1" stroke="#000" stroke-width="1.2"/>
<text x="111.54" y="767.3" font-size="8" font-weight="bold" text-anchor="middle" fill="#000" font-family='"Liberation Sans", sans-serif'>15</text>
<line x1="136.26" y1="752.3" x2="136.26" y2="755.1" stroke="#000" stroke-width="1.2"/>
<text x="136.26" y="767.3" font-size="8" font-weight="bold" text-anchor="middle" fill="#000" font-family='"Liberation Sans", sans-serif'>20</text>
<line x1="160.97" y1="752.3" x2="160.97" y2="755.1" stroke="#000" stroke-width="1.2"/>
<text x="160.97" y="767.3" font-size="8" font-weight="bold" text-anchor="middle" fill="#000" font-family='"Liberation Sans", sans-serif'>25</text>
<line x1="185.69" y1="752.3" x2="185.69" y2="755.1" stroke="#000" stroke-width="1.2"/>
<text x="185.69" y="767.3" font-size="8" font-weight="bold" text-anchor="middle" fill="#000" font-family='"Liberation Sans", sans-serif'>30</text>
<line x1="210.41" y1="752.3" x2="210.41" y2="755.1" stroke="#000" stroke-width="1.2"/>
<text x="210.41" y="767.3" font-size="8" font-weight="bold" text-anchor="middle" fill="#000" font-family='"Liberation Sans", sans-serif'>35</text>
<line x1="235.12" y1="752.3" x2="235.12" y2="755.1" stroke="#000" stroke-width="1.2"/>
<text x="235.12" y="767.3" font-size="8" font-weight="bold" text-anchor="middle" fill="#000" font-family='"Liberation Sans", sans-serif'>40</text>
<line x1="259.83" y1="752.3" x2="259.83" y2="755.1" stroke="#000" stroke-width="1.2"/>
<text x="259.83" y="767.3" font-size="8" font-weight="bold" text-anchor="middle" fill="#000" font-family='"Liberation Sans", sans-serif'>45</text>
<line x1="284.55" y1="752.3" x2="284.55" y2="755.1" stroke="#000" stroke-width="1.2"/>
<text x="284.55" y="767.3" font-size="8" font-weight="bold" text-anchor="middle" fill="#000" font-family='"Liberation Sans", sans-serif'>50</text>
<line x1="309.26" y1="752.3" x2="309.26" y2="755.1" stroke="#000" stroke-width="1.2"/>
<text x="309.26" y="767.3" font-size="8" font-weight="bold" text-anchor="middle" fill="#000" font-family='"Liberation Sans", sans-serif'>55</text>
<line x1="333.98" y1="752.3" x2="333.98" y2="755.1" stroke="#000" stroke-width="1.2"/>
<text x="333.98" y="767.3" font-size="8" font-weight="bold" text-anchor="middle" fill="#000" font-family='"Liberation Sans", sans-serif'>60</text>
<text x="132" y="541" font-size="9.12" font-weight="bold" text-anchor="start" fill="#000" font-family='"Liberation Sans", sans-serif' textLength="186.3" lengthAdjust="spacingAndGlyphs">LD1-0006-217643 lung caner PDX model</text>
<text x="0.4" y="539.4" font-size="17.8" font-weight="normal" text-anchor="start" fill="#000" font-family='"Liberation Sans", sans-serif'>E</text>
<text x="186" y="779" font-size="8.24" font-weight="bold" text-anchor="middle" fill="#000" font-family='"Liberation Sans", sans-serif' textLength="79.7" lengthAdjust="spacingAndGlyphs">Days after treatment</text>
<text transform="translate(9,652) rotate(-90)" font-size="8.4" font-weight="bold" text-anchor="middle" font-family='"Liberation Sans", sans-serif' fill="#000">Tumor volume (mm<tspan font-size="6.05" dy="-3.19">3</tspan><tspan dy="3.19">)</tspan></text>
<polyline points="37.5,728.98 57.5,731.75 72.5,731.16 91.5,728.98 106.5,728.59 126.5,728.98 141.5,729.38 160.5,729.38 175.5,728.59 195.5,730.76 210.5,729.38 230.5,729.38 245.5,726.81 264.5,726.41 279.5,726.41 299.5,725.43 314.5,724.83 333.5,722.26" fill="none" stroke="#0000ff" stroke-width="1.1" stroke-linejoin="round"/>
<line x1="141.5" y1="729.38" x2="141.5" y2="724.04" stroke="#fff" stroke-width="1"/>
<line x1="141.5" y1="729.38" x2="141.5" y2="724.04" stroke="#0000ff" stroke-width="1"/>
<line x1="139.5" y1="724.04" x2="143.5" y2="724.04" stroke="#0000ff" stroke-width="1"/>
<line x1="160.5" y1="729.38" x2="160.5" y2="724.04" stroke="#fff" stroke-width="1"/>
<line x1="160.5" y1="729.38" x2="160.5" y2="724.04" stroke="#0000ff" stroke-width="1"/>
<line x1="158.5" y1="724.04" x2="162.5" y2="724.04" stroke="#0000ff" stroke-width="1"/>
<line x1="175.5" y1="728.59" x2="175.5" y2="723.45" stroke="#fff" stroke-width="1"/>
<line x1="175.5" y1="728.59" x2="175.5" y2="723.45" stroke="#0000ff" stroke-width="1"/>
<line x1="173.5" y1="723.45" x2="177.5" y2="723.45" stroke="#0000ff" stroke-width="1"/>
<line x1="195.5" y1="730.76" x2="195.5" y2="724.44" stroke="#fff" stroke-width="1"/>
<line x1="195.5" y1="730.76" x2="195.5" y2="724.44" stroke="#0000ff" stroke-width="1"/>
<line x1="193.5" y1="724.44" x2="197.5" y2="724.44" stroke="#0000ff" stroke-width="1"/>
<line x1="210.5" y1="729.38" x2="210.5" y2="722.66" stroke="#fff" stroke-width="1"/>
<line x1="210.5" y1="729.38" x2="210.5" y2="722.66" stroke="#0000ff" stroke-width="1"/>
<line x1="208.5" y1="722.66" x2="212.5" y2="722.66" stroke="#0000ff" stroke-width="1"/>
<line x1="230.5" y1="729.38" x2="230.5" y2="720.29" stroke="#fff" stroke-width="1"/>
<line x1="230.5" y1="729.38" x2="230.5" y2="720.29" stroke="#0000ff" stroke-width="1"/>
<line x1="228.5" y1="720.29" x2="232.5" y2="720.29" stroke="#0000ff" stroke-width="1"/>
<line x1="245.5" y1="726.81" x2="245.5" y2="718.12" stroke="#fff" stroke-width="1"/>
<line x1="245.5" y1="726.81" x2="245.5" y2="718.12" stroke="#0000ff" stroke-width="1"/>
<line x1="243.5" y1="718.12" x2="247.5" y2="718.12" stroke="#0000ff" stroke-width="1"/>
<line x1="264.5" y1="726.41" x2="264.5" y2="716.73" stroke="#fff" stroke-width="1"/>
<line x1="264.5" y1="726.41" x2="264.5" y2="716.73" stroke="#0000ff" stroke-width="1"/>
<line x1="262.5" y1="716.73" x2="266.5" y2="716.73" stroke="#0000ff" stroke-width="1"/>
<line x1="279.5" y1="726.41" x2="279.5" y2="715.74" stroke="#fff" stroke-width="1"/>
<line x1="279.5" y1="726.41" x2="279.5" y2="715.74" stroke="#0000ff" stroke-width="1"/>
<line x1="277.5" y1="715.74" x2="281.5" y2="715.74" stroke="#0000ff" stroke-width="1"/>
<line x1="299.5" y1="725.43" x2="299.5" y2="714.56" stroke="#fff" stroke-width="1"/>
<line x1="299.5" y1="725.43" x2="299.5" y2="714.56" stroke="#0000ff" stroke-width="1"/>
<line x1="297.5" y1="714.56" x2="301.5" y2="714.56" stroke="#0000ff" stroke-width="1"/>
<line x1="314.5" y1="724.83" x2="314.5" y2="713.57" stroke="#fff" stroke-width="1"/>
<line x1="314.5" y1="724.83" x2="314.5" y2="713.57" stroke="#0000ff" stroke-width="1"/>
<line x1="312.5" y1="713.57" x2="316.5" y2="713.57" stroke="#0000ff" stroke-width="1"/>
<line x1="333.5" y1="722.26" x2="333.5" y2="708.63" stroke="#fff" stroke-width="1"/>
<line x1="333.5" y1="722.26" x2="333.5" y2="708.63" stroke="#0000ff" stroke-width="1"/>
<line x1="331.5" y1="708.63" x2="335.5" y2="708.63" stroke="#0000ff" stroke-width="1"/>
<polygon points="37.5,731.28 39.7,727.14 35.3,727.14" fill="#0000ff"/>
<polygon points="57.5,734.05 59.7,729.91 55.3,729.91" fill="#0000ff"/>
<polygon points="72.5,733.46 74.7,729.32 70.3,729.32" fill="#0000ff"/>
<polygon points="91.5,731.28 93.7,727.14 89.3,727.14" fill="#0000ff"/>
<polygon points="106.5,730.89 108.7,726.75 104.3,726.75" fill="#0000ff"/>
<polygon points="126.5,731.28 128.7,727.14 124.3,727.14" fill="#0000ff"/>
<polygon points="141.5,731.68 143.7,727.54 139.3,727.54" fill="#0000ff"/>
<polygon points="160.5,731.68 162.7,727.54 158.3,727.54" fill="#0000ff"/>
<polygon points="175.5,730.89 177.7,726.75 173.3,726.75" fill="#0000ff"/>
<polygon points="195.5,733.06 197.7,728.92 193.3,728.92" fill="#0000ff"/>
<polygon points="210.5,731.68 212.7,727.54 208.3,727.54" fill="#0000ff"/>
<polygon points="230.5,731.68 232.7,727.54 228.3,727.54" fill="#0000ff"/>
<polygon points="245.5,729.11 247.7,724.97 243.3,724.97" fill="#0000ff"/>
<polygon points="264.5,728.71 266.7,724.57 262.3,724.57" fill="#0000ff"/>
<polygon points="279.5,728.71 281.7,724.57 277.3,724.57" fill="#0000ff"/>
<polygon points="299.5,727.73 301.7,723.59 297.3,723.59" fill="#0000ff"/>
<polygon points="314.5,727.13 316.7,722.99 312.3,722.99" fill="#0000ff"/>
<polygon points="333.5,724.56 335.7,720.42 331.3,720.42" fill="#0000ff"/>
<polyline points="37.5,728.98 57.5,727.2 72.5,726.81 91.5,726.22 106.5,724.83 126.5,722.26 141.5,719.1 160.5,716.34 175.5,713.57 195.5,714.56 210.5,713.18 230.5,710.41 245.5,708.24 264.5,704.48 279.5,703.69 299.5,701.32 314.5,696.97 333.5,690.06" fill="none" stroke="#0000ff" stroke-width="1.1" stroke-linejoin="round"/>
<line x1="126.5" y1="722.26" x2="126.5" y2="716.73" stroke="#fff" stroke-width="1"/>
<line x1="126.5" y1="722.26" x2="126.5" y2="716.73" stroke="#0000ff" stroke-width="1"/>
<line x1="124.5" y1="716.73" x2="128.5" y2="716.73" stroke="#0000ff" stroke-width="1"/>
<line x1="141.5" y1="719.1" x2="141.5" y2="710.01" stroke="#fff" stroke-width="1"/>
<line x1="141.5" y1="719.1" x2="141.5" y2="710.01" stroke="#0000ff" stroke-width="1"/>
<line x1="139.5" y1="710.01" x2="143.5" y2="710.01" stroke="#0000ff" stroke-width="1"/>
<line x1="160.5" y1="716.34" x2="160.5" y2="707.64" stroke="#fff" stroke-width="1"/>
<line x1="160.5" y1="716.34" x2="160.5" y2="707.64" stroke="#0000ff" stroke-width="1"/>
<line x1="158.5" y1="707.64" x2="162.5" y2="707.64" stroke="#0000ff" stroke-width="1"/>
<line x1="175.5" y1="713.57" x2="175.5" y2="700.53" stroke="#fff" stroke-width="1"/>
<line x1="175.5" y1="713.57" x2="175.5" y2="700.53" stroke="#0000ff" stroke-width="1"/>
<line x1="173.5" y1="700.53" x2="177.5" y2="700.53" stroke="#0000ff" stroke-width="1"/>
<line x1="195.5" y1="714.56" x2="195.5" y2="704.09" stroke="#fff" stroke-width="1"/>
<line x1="195.5" y1="714.56" x2="195.5" y2="704.09" stroke="#0000ff" stroke-width="1"/>
<line x1="193.5" y1="704.09" x2="197.5" y2="704.09" stroke="#0000ff" stroke-width="1"/>
<line x1="210.5" y1="713.18" x2="210.5" y2="702.31" stroke="#fff" stroke-width="1"/>
<line x1="210.5" y1="713.18" x2="210.5" y2="702.31" stroke="#0000ff" stroke-width="1"/>
<line x1="208.5" y1="702.31" x2="212.5" y2="702.31" stroke="#0000ff" stroke-width="1"/>
<line x1="230.5" y1="710.41" x2="230.5" y2="700.13" stroke="#fff" stroke-width="1"/>
<line x1="230.5" y1="710.41" x2="230.5" y2="700.13" stroke="#0000ff" stroke-width="1"/>
<line x1="228.5" y1="700.13" x2="232.5" y2="700.13" stroke="#0000ff" stroke-width="1"/>
<line x1="245.5" y1="708.24" x2="245.5" y2="696.77" stroke="#fff" stroke-width="1"/>
<line x1="245.5" y1="708.24" x2="245.5" y2="696.77" stroke="#0000ff" stroke-width="1"/>
<line x1="243.5" y1="696.77" x2="247.5" y2="696.77" stroke="#0000ff" stroke-width="1"/>
<line x1="264.5" y1="704.48" x2="264.5" y2="691.83" stroke="#fff" stroke-width="1"/>
<line x1="264.5" y1="704.48" x2="264.5" y2="691.83" stroke="#0000ff" stroke-width="1"/>
<line x1="262.5" y1="691.83" x2="266.5" y2="691.83" stroke="#0000ff" stroke-width="1"/>
<line x1="279.5" y1="703.69" x2="279.5" y2="690.45" stroke="#fff" stroke-width="1"/>
<line x1="279.5" y1="703.69" x2="279.5" y2="690.45" stroke="#0000ff" stroke-width="1"/>
<line x1="277.5" y1="690.45" x2="281.5" y2="690.45" stroke="#0000ff" stroke-width="1"/>
<line x1="299.5" y1="701.32" x2="299.5" y2="686.89" stroke="#fff" stroke-width="1"/>
<line x1="299.5" y1="701.32" x2="299.5" y2="686.89" stroke="#0000ff" stroke-width="1"/>
<line x1="297.5" y1="686.89" x2="301.5" y2="686.89" stroke="#0000ff" stroke-width="1"/>
<line x1="314.5" y1="696.97" x2="314.5" y2="679.78" stroke="#fff" stroke-width="1"/>
<line x1="314.5" y1="696.97" x2="314.5" y2="679.78" stroke="#0000ff" stroke-width="1"/>
<line x1="312.5" y1="679.78" x2="316.5" y2="679.78" stroke="#0000ff" stroke-width="1"/>
<line x1="333.5" y1="690.06" x2="333.5" y2="669.31" stroke="#fff" stroke-width="1"/>
<line x1="333.5" y1="690.06" x2="333.5" y2="669.31" stroke="#0000ff" stroke-width="1"/>
<line x1="331.5" y1="669.31" x2="335.5" y2="669.31" stroke="#0000ff" stroke-width="1"/>
<polygon points="37.5,726.68 39.7,730.82 35.3,730.82" fill="#0000ff"/>
<polygon points="57.5,724.9 59.7,729.04 55.3,729.04" fill="#0000ff"/>
<polygon points="72.5,724.51 74.7,728.65 70.3,728.65" fill="#0000ff"/>
<polygon points="91.5,723.92 93.7,728.06 89.3,728.06" fill="#0000ff"/>
<polygon points="106.5,722.53 108.7,726.67 104.3,726.67" fill="#0000ff"/>
<polygon points="126.5,719.96 128.7,724.1 124.3,724.1" fill="#0000ff"/>
<polygon points="141.5,716.8 143.7,720.94 139.3,720.94" fill="#0000ff"/>
<polygon points="160.5,714.04 162.7,718.18 158.3,718.18" fill="#0000ff"/>
<polygon points="175.5,711.27 177.7,715.41 173.3,715.41" fill="#0000ff"/>
<polygon points="195.5,712.26 197.7,716.4 193.3,716.4" fill="#0000ff"/>
<polygon points="210.5,710.88 212.7,715.02 208.3,715.02" fill="#0000ff"/>
<polygon points="230.5,708.11 232.7,712.25 228.3,712.25" fill="#0000ff"/>
<polygon points="245.5,705.94 247.7,710.08 243.3,710.08" fill="#0000ff"/>
<polygon points="264.5,702.18 266.7,706.32 262.3,706.32" fill="#0000ff"/>
<polygon points="279.5,701.39 281.7,705.53 277.3,705.53" fill="#0000ff"/>
<polygon points="299.5,699.02 301.7,703.16 297.3,703.16" fill="#0000ff"/>
<polygon points="314.5,694.67 316.7,698.81 312.3,698.81" fill="#0000ff"/>
<polygon points="333.5,687.76 335.7,691.9 331.3,691.9" fill="#0000ff"/>
<polyline points="37.5,728.98 57.5,725.82 72.5,723.06 91.5,720.29 106.5,716.34 126.5,710.8 141.5,707.25 160.5,703.1 175.5,699.15 195.5,695 210.5,691.44 230.5,687.49 245.5,681.95 264.5,677.01 279.5,667.92 299.5,656.66 314.5,640.26 333.5,626.63" fill="none" stroke="#000" stroke-width="1.1" stroke-linejoin="round"/>
<line x1="106.5" y1="716.34" x2="106.5" y2="713.18" stroke="#fff" stroke-width="1"/>
<line x1="106.5" y1="716.34" x2="106.5" y2="713.18" stroke="#000" stroke-width="1"/>
<line x1="104.5" y1="713.18" x2="108.5" y2="713.18" stroke="#000" stroke-width="1"/>
<line x1="126.5" y1="710.8" x2="126.5" y2="707.84" stroke="#fff" stroke-width="1"/>
<line x1="126.5" y1="710.8" x2="126.5" y2="707.84" stroke="#000" stroke-width="1"/>
<line x1="124.5" y1="707.84" x2="128.5" y2="707.84" stroke="#000" stroke-width="1"/>
<line x1="141.5" y1="707.25" x2="141.5" y2="703.69" stroke="#fff" stroke-width="1"/>
<line x1="141.5" y1="707.25" x2="141.5" y2="703.69" stroke="#000" stroke-width="1"/>
<line x1="139.5" y1="703.69" x2="143.5" y2="703.69" stroke="#000" stroke-width="1"/>
<line x1="160.5" y1="703.1" x2="160.5" y2="700.13" stroke="#fff" stroke-width="1"/>
<line x1="160.5" y1="703.1" x2="160.5" y2="700.13" stroke="#000" stroke-width="1"/>
<line x1="158.5" y1="700.13" x2="162.5" y2="700.13" stroke="#000" stroke-width="1"/>
<line x1="175.5" y1="699.15" x2="175.5" y2="695" stroke="#fff" stroke-width="1"/>
<line x1="175.5" y1="699.15" x2="175.5" y2="695" stroke="#000" stroke-width="1"/>
<line x1="173.5" y1="695" x2="177.5" y2="695" stroke="#000" stroke-width="1"/>
<line x1="195.5" y1="695" x2="195.5" y2="689.66" stroke="#fff" stroke-width="1"/>
<line x1="195.5" y1="695" x2="195.5" y2="689.66" stroke="#000" stroke-width="1"/>
<line x1="193.5" y1="689.66" x2="197.5" y2="689.66" stroke="#000" stroke-width="1"/>
<line x1="210.5" y1="691.44" x2="210.5" y2="684.52" stroke="#fff" stroke-width="1"/>
<line x1="210.5" y1="691.44" x2="210.5" y2="684.52" stroke="#000" stroke-width="1"/>
<line x1="208.5" y1="684.52" x2="212.5" y2="684.52" stroke="#000" stroke-width="1"/>
<line x1="230.5" y1="687.49" x2="230.5" y2="680.18" stroke="#fff" stroke-width="1"/>
<line x1="230.5" y1="687.49" x2="230.5" y2="680.18" stroke="#000" stroke-width="1"/>
<line x1="228.5" y1="680.18" x2="232.5" y2="680.18" stroke="#000" stroke-width="1"/>
<line x1="245.5" y1="681.95" x2="245.5" y2="672.86" stroke="#fff" stroke-width="1"/>
<line x1="245.5" y1="681.95" x2="245.5" y2="672.86" stroke="#000" stroke-width="1"/>
<line x1="243.5" y1="672.86" x2="247.5" y2="672.86" stroke="#000" stroke-width="1"/>
<line x1="264.5" y1="677.01" x2="264.5" y2="665.55" stroke="#fff" stroke-width="1"/>
<line x1="264.5" y1="677.01" x2="264.5" y2="665.55" stroke="#000" stroke-width="1"/>
<line x1="262.5" y1="665.55" x2="266.5" y2="665.55" stroke="#000" stroke-width="1"/>
<line x1="279.5" y1="667.92" x2="279.5" y2="654.69" stroke="#fff" stroke-width="1"/>
<line x1="279.5" y1="667.92" x2="279.5" y2="654.69" stroke="#000" stroke-width="1"/>
<line x1="277.5" y1="654.69" x2="281.5" y2="654.69" stroke="#000" stroke-width="1"/>
<line x1="299.5" y1="656.66" x2="299.5" y2="638.48" stroke="#fff" stroke-width="1"/>
<line x1="299.5" y1="656.66" x2="299.5" y2="638.48" stroke="#000" stroke-width="1"/>
<line x1="297.5" y1="638.48" x2="301.5" y2="638.48" stroke="#000" stroke-width="1"/>
<line x1="314.5" y1="640.26" x2="314.5" y2="616.35" stroke="#fff" stroke-width="1"/>
<line x1="314.5" y1="640.26" x2="314.5" y2="616.35" stroke="#000" stroke-width="1"/>
<line x1="312.5" y1="616.35" x2="316.5" y2="616.35" stroke="#000" stroke-width="1"/>
<line x1="333.5" y1="626.63" x2="333.5" y2="597.78" stroke="#fff" stroke-width="1"/>
<line x1="333.5" y1="626.63" x2="333.5" y2="597.78" stroke="#000" stroke-width="1"/>
<line x1="331.5" y1="597.78" x2="335.5" y2="597.78" stroke="#000" stroke-width="1"/>
<circle cx="37.5" cy="728.98" r="2" fill="#000"/>
<circle cx="57.5" cy="725.82" r="2" fill="#000"/>
<circle cx="72.5" cy="723.06" r="2" fill="#000"/>
<circle cx="91.5" cy="720.29" r="2" fill="#000"/>
<circle cx="106.5" cy="716.34" r="2" fill="#000"/>
<circle cx="126.5" cy="710.8" r="2" fill="#000"/>
<circle cx="141.5" cy="707.25" r="2" fill="#000"/>
<circle cx="160.5" cy="703.1" r="2" fill="#000"/>
<circle cx="175.5" cy="699.15" r="2" fill="#000"/>
<circle cx="195.5" cy="695" r="2" fill="#000"/>
<circle cx="210.5" cy="691.44" r="2" fill="#000"/>
<circle cx="230.5" cy="687.49" r="2" fill="#000"/>
<circle cx="245.5" cy="681.95" r="2" fill="#000"/>
<circle cx="264.5" cy="677.01" r="2" fill="#000"/>
<circle cx="279.5" cy="667.92" r="2" fill="#000"/>
<circle cx="299.5" cy="656.66" r="2" fill="#000"/>
<circle cx="314.5" cy="640.26" r="2" fill="#000"/>
<circle cx="333.5" cy="626.63" r="2" fill="#000"/>
<line x1="56.4" y1="566.2" x2="67.5" y2="566.2" stroke="#000" stroke-width="0.8"/>
<circle cx="61.7" cy="566.2" r="1.9" fill="#000"/>
<text x="73.4" y="569.2" font-size="7.95" font-weight="bold" text-anchor="start" fill="#000" font-family='"Liberation Sans", sans-serif' textLength="28.85" lengthAdjust="spacingAndGlyphs">Vehicle</text>
<line x1="56.4" y1="577.6" x2="67.5" y2="577.6" stroke="#0000ff" stroke-width="0.8"/>
<polygon points="61.7,575.42 63.79,579.35 59.61,579.35" fill="#0000ff"/>
<text x="74" y="580.6" font-size="7.95" font-weight="bold" text-anchor="start" fill="#000" font-family='"Liberation Sans", sans-serif' textLength="153.35" lengthAdjust="spacingAndGlyphs">GQ1001 5 mg/kg, 2 dose ( D0, D30)  i.v.</text>
<line x1="56.4" y1="587.5" x2="67.5" y2="587.5" stroke="#0000ff" stroke-width="0.8"/>
<polygon points="61.7,589.68 63.79,585.75 59.61,585.75" fill="#0000ff"/>
<text x="72.8" y="590.5" font-size="7.95" font-weight="bold" text-anchor="start" fill="#000" font-family='"Liberation Sans", sans-serif' textLength="158.01" lengthAdjust="spacingAndGlyphs">GQ1001 10 mg/kg, 2 dose ( D0, D30)  i.v.</text>
<line x1="412.9" y1="558.6" x2="412.9" y2="750.9" stroke="#555" stroke-width="1"/>
<line x1="410.1" y1="748.1" x2="635.83" y2="748.1" stroke="#555" stroke-width="1"/>
<line x1="410.1" y1="748.1" x2="412.9" y2="748.1" stroke="#555" stroke-width="1"/>
<text x="407.6" y="751.5" font-size="8.5" font-weight="bold" text-anchor="end" fill="#000" font-family='"Liberation Sans", sans-serif'>0</text>
<line x1="410.1" y1="716.6" x2="412.9" y2="716.6" stroke="#555" stroke-width="1"/>
<text x="407.6" y="720" font-size="8.5" font-weight="bold" text-anchor="end" fill="#000" font-family='"Liberation Sans", sans-serif'>500</text>
<line x1="410.1" y1="685.1" x2="412.9" y2="685.1" stroke="#555" stroke-width="1"/>
<text x="407.6" y="688.5" font-size="8.5" font-weight="bold" text-anchor="end" fill="#000" font-family='"Liberation Sans", sans-serif'>1000</text>
<line x1="410.1" y1="653.6" x2="412.9" y2="653.6" stroke="#555" stroke-width="1"/>
<text x="407.6" y="657" font-size="8.5" font-weight="bold" text-anchor="end" fill="#000" font-family='"Liberation Sans", sans-serif'>1500</text>
<line x1="410.1" y1="622.1" x2="412.9" y2="622.1" stroke="#555" stroke-width="1"/>
<text x="407.6" y="625.5" font-size="8.5" font-weight="bold" text-anchor="end" fill="#000" font-family='"Liberation Sans", sans-serif'>2000</text>
<line x1="410.1" y1="590.6" x2="412.9" y2="590.6" stroke="#555" stroke-width="1"/>
<text x="407.6" y="594" font-size="8.5" font-weight="bold" text-anchor="end" fill="#000" font-family='"Liberation Sans", sans-serif'>2500</text>
<line x1="410.1" y1="559.1" x2="412.9" y2="559.1" stroke="#555" stroke-width="1"/>
<text x="407.6" y="562.5" font-size="8.5" font-weight="bold" text-anchor="end" fill="#000" font-family='"Liberation Sans", sans-serif'>3000</text>
<line x1="412.9" y1="748.1" x2="412.9" y2="750.9" stroke="#555" stroke-width="1"/>
<text x="412.9" y="761.7" font-size="8.5" font-weight="bold" text-anchor="middle" fill="#000" font-family='"Liberation Sans", sans-serif'>0</text>
<line x1="444.67" y1="748.1" x2="444.67" y2="750.9" stroke="#555" stroke-width="1"/>
<text x="444.67" y="761.7" font-size="8.5" font-weight="bold" text-anchor="middle" fill="#000" font-family='"Liberation Sans", sans-serif'>5</text>
<line x1="476.45" y1="748.1" x2="476.45" y2="750.9" stroke="#555" stroke-width="1"/>
<text x="476.45" y="761.7" font-size="8.5" font-weight="bold" text-anchor="middle" fill="#000" font-family='"Liberation Sans", sans-serif'>10</text>
<line x1="508.22" y1="748.1" x2="508.22" y2="750.9" stroke="#555" stroke-width="1"/>
<text x="508.22" y="761.7" font-size="8.5" font-weight="bold" text-anchor="middle" fill="#000" font-family='"Liberation Sans", sans-serif'>15</text>
<line x1="540" y1="748.1" x2="540" y2="750.9" stroke="#555" stroke-width="1"/>
<text x="540" y="761.7" font-size="8.5" font-weight="bold" text-anchor="middle" fill="#000" font-family='"Liberation Sans", sans-serif'>20</text>
<line x1="571.77" y1="748.1" x2="571.77" y2="750.9" stroke="#555" stroke-width="1"/>
<text x="571.77" y="761.7" font-size="8.5" font-weight="bold" text-anchor="middle" fill="#000" font-family='"Liberation Sans", sans-serif'>25</text>
<line x1="603.55" y1="748.1" x2="603.55" y2="750.9" stroke="#555" stroke-width="1"/>
<text x="603.55" y="761.7" font-size="8.5" font-weight="bold" text-anchor="middle" fill="#000" font-family='"Liberation Sans", sans-serif'>30</text>
<line x1="635.33" y1="748.1" x2="635.33" y2="750.9" stroke="#555" stroke-width="1"/>
<text x="635.33" y="761.7" font-size="8.5" font-weight="bold" text-anchor="middle" fill="#000" font-family='"Liberation Sans", sans-serif'>35</text>
<text x="406.9" y="538.7" font-size="9.88" font-weight="bold" text-anchor="start" fill="#000" font-family='"Liberation Sans", sans-serif' textLength="273.5" lengthAdjust="spacingAndGlyphs">LU-01-1626 NSCLC PDX model (exon20 ins, HER2 1+)</text>
<text x="351.5" y="542.4" font-size="17.8" font-weight="normal" text-anchor="start" fill="#000" font-family='"Liberation Sans", sans-serif'>F</text>
<text x="524.5" y="779" font-size="9.1" font-weight="bold" text-anchor="middle" fill="#000" font-family='"Liberation Sans", sans-serif' textLength="137.5" lengthAdjust="spacingAndGlyphs">Days after the start of treatment</text>
<text transform="translate(385.3,654) rotate(-90)" font-size="8.9" font-weight="bold" text-anchor="middle" font-family='"Liberation Sans", sans-serif' fill="#000">Tumor volume (mm<tspan font-size="6.41" dy="-3.38">3</tspan><tspan dy="3.38">)</tspan></text>
<polyline points="412.5,737.01 425.5,733.23 444.5,736 463.5,731.53 489.5,725.36 508.5,716.1 533.5,708.91 552.5,700.72 578.5,681.89 597.5,659.27" fill="none" stroke="#ff0000" stroke-width="0.9" stroke-linejoin="round"/>
<line x1="508.5" y1="716.1" x2="508.5" y2="707.21" stroke="#fff" stroke-width="0.7"/>
<line x1="508.5" y1="716.1" x2="508.5" y2="707.21" stroke="#ff0000" stroke-width="0.7"/>
<line x1="506.5" y1="707.21" x2="510.5" y2="707.21" stroke="#ff0000" stroke-width="0.7"/>
<line x1="533.5" y1="708.91" x2="533.5" y2="696.63" stroke="#fff" stroke-width="0.7"/>
<line x1="533.5" y1="708.91" x2="533.5" y2="696.63" stroke="#ff0000" stroke-width="0.7"/>
<line x1="531.5" y1="696.63" x2="535.5" y2="696.63" stroke="#ff0000" stroke-width="0.7"/>
<line x1="552.5" y1="700.72" x2="552.5" y2="684.28" stroke="#fff" stroke-width="0.7"/>
<line x1="552.5" y1="700.72" x2="552.5" y2="684.28" stroke="#ff0000" stroke-width="0.7"/>
<line x1="550.5" y1="684.28" x2="554.5" y2="684.28" stroke="#ff0000" stroke-width="0.7"/>
<line x1="578.5" y1="681.89" x2="578.5" y2="657.51" stroke="#fff" stroke-width="0.7"/>
<line x1="578.5" y1="681.89" x2="578.5" y2="657.51" stroke="#ff0000" stroke-width="0.7"/>
<line x1="576.5" y1="657.51" x2="580.5" y2="657.51" stroke="#ff0000" stroke-width="0.7"/>
<line x1="597.5" y1="659.27" x2="597.5" y2="624.24" stroke="#fff" stroke-width="0.7"/>
<line x1="597.5" y1="659.27" x2="597.5" y2="624.24" stroke="#ff0000" stroke-width="0.7"/>
<line x1="595.5" y1="624.24" x2="599.5" y2="624.24" stroke="#ff0000" stroke-width="0.7"/>
<rect x="410.3" y="734.81" width="4.4" height="4.4" fill="#ff0000"/>
<rect x="423.3" y="731.03" width="4.4" height="4.4" fill="#ff0000"/>
<rect x="442.3" y="733.8" width="4.4" height="4.4" fill="#ff0000"/>
<rect x="461.3" y="729.33" width="4.4" height="4.4" fill="#ff0000"/>
<rect x="487.3" y="723.16" width="4.4" height="4.4" fill="#ff0000"/>
<rect x="506.3" y="713.9" width="4.4" height="4.4" fill="#ff0000"/>
<rect x="531.3" y="706.71" width="4.4" height="4.4" fill="#ff0000"/>
<rect x="550.3" y="698.52" width="4.4" height="4.4" fill="#ff0000"/>
<rect x="576.3" y="679.69" width="4.4" height="4.4" fill="#ff0000"/>
<rect x="595.3" y="657.07" width="4.4" height="4.4" fill="#ff0000"/>
<polyline points="412.5,737.01 425.5,733.61 444.5,731.53 463.5,729.14 489.5,724.66 508.5,717.8 533.5,710.24 552.5,702.36 578.5,694.49 597.5,677.67 622.5,658.83 635.5,644.84" fill="none" stroke="#0000ff" stroke-width="0.9" stroke-linejoin="round"/>
<line x1="444.5" y1="731.53" x2="444.5" y2="728.44" stroke="#fff" stroke-width="0.7"/>
<line x1="444.5" y1="731.53" x2="444.5" y2="728.44" stroke="#0000ff" stroke-width="0.7"/>
<line x1="442.5" y1="728.44" x2="446.5" y2="728.44" stroke="#0000ff" stroke-width="0.7"/>
<line x1="463.5" y1="729.14" x2="463.5" y2="725.67" stroke="#fff" stroke-width="0.7"/>
<line x1="463.5" y1="729.14" x2="463.5" y2="725.67" stroke="#0000ff" stroke-width="0.7"/>
<line x1="461.5" y1="725.67" x2="465.5" y2="725.67" stroke="#0000ff" stroke-width="0.7"/>
<line x1="489.5" y1="724.66" x2="489.5" y2="719.56" stroke="#fff" stroke-width="0.7"/>
<line x1="489.5" y1="724.66" x2="489.5" y2="719.56" stroke="#0000ff" stroke-width="0.7"/>
<line x1="487.5" y1="719.56" x2="491.5" y2="719.56" stroke="#0000ff" stroke-width="0.7"/>
<line x1="508.5" y1="717.8" x2="508.5" y2="712.32" stroke="#fff" stroke-width="0.7"/>
<line x1="508.5" y1="717.8" x2="508.5" y2="712.32" stroke="#0000ff" stroke-width="0.7"/>
<line x1="506.5" y1="712.32" x2="510.5" y2="712.32" stroke="#0000ff" stroke-width="0.7"/>
<line x1="533.5" y1="710.24" x2="533.5" y2="703.06" stroke="#fff" stroke-width="0.7"/>
<line x1="533.5" y1="710.24" x2="533.5" y2="703.06" stroke="#0000ff" stroke-width="0.7"/>
<line x1="531.5" y1="703.06" x2="535.5" y2="703.06" stroke="#0000ff" stroke-width="0.7"/>
<line x1="552.5" y1="702.36" x2="552.5" y2="694.49" stroke="#fff" stroke-width="0.7"/>
<line x1="552.5" y1="702.36" x2="552.5" y2="694.49" stroke="#0000ff" stroke-width="0.7"/>
<line x1="550.5" y1="694.49" x2="554.5" y2="694.49" stroke="#0000ff" stroke-width="0.7"/>
<line x1="578.5" y1="694.49" x2="578.5" y2="683.52" stroke="#fff" stroke-width="0.7"/>
<line x1="578.5" y1="694.49" x2="578.5" y2="683.52" stroke="#0000ff" stroke-width="0.7"/>
<line x1="576.5" y1="683.52" x2="580.5" y2="683.52" stroke="#0000ff" stroke-width="0.7"/>
<line x1="597.5" y1="677.67" x2="597.5" y2="666.77" stroke="#fff" stroke-width="0.7"/>
<line x1="597.5" y1="677.67" x2="597.5" y2="666.77" stroke="#0000ff" stroke-width="0.7"/>
<line x1="595.5" y1="666.77" x2="599.5" y2="666.77" stroke="#0000ff" stroke-width="0.7"/>
<line x1="622.5" y1="658.83" x2="622.5" y2="643.46" stroke="#fff" stroke-width="0.7"/>
<line x1="622.5" y1="658.83" x2="622.5" y2="643.46" stroke="#0000ff" stroke-width="0.7"/>
<line x1="620.5" y1="643.46" x2="624.5" y2="643.46" stroke="#0000ff" stroke-width="0.7"/>
<line x1="635.5" y1="644.84" x2="635.5" y2="627.64" stroke="#fff" stroke-width="0.7"/>
<line x1="635.5" y1="644.84" x2="635.5" y2="627.64" stroke="#0000ff" stroke-width="0.7"/>
<line x1="633.5" y1="627.64" x2="637.5" y2="627.64" stroke="#0000ff" stroke-width="0.7"/>
<polygon points="412.5,734.48 414.92,739.04 410.08,739.04" fill="#0000ff"/>
<polygon points="425.5,731.08 427.92,735.63 423.08,735.63" fill="#0000ff"/>
<polygon points="444.5,729 446.92,733.56 442.08,733.56" fill="#0000ff"/>
<polygon points="463.5,726.61 465.92,731.16 461.08,731.16" fill="#0000ff"/>
<polygon points="489.5,722.13 491.92,726.69 487.08,726.69" fill="#0000ff"/>
<polygon points="508.5,715.27 510.92,719.82 506.08,719.82" fill="#0000ff"/>
<polygon points="533.5,707.71 535.92,712.26 531.08,712.26" fill="#0000ff"/>
<polygon points="552.5,699.83 554.92,704.39 550.08,704.39" fill="#0000ff"/>
<polygon points="578.5,691.96 580.92,696.51 576.08,696.51" fill="#0000ff"/>
<polygon points="597.5,675.14 599.92,679.69 595.08,679.69" fill="#0000ff"/>
<polygon points="622.5,656.3 624.92,660.85 620.08,660.85" fill="#0000ff"/>
<polygon points="635.5,642.31 637.92,646.87 633.08,646.87" fill="#0000ff"/>
<polyline points="412.5,737.01 425.5,730.84 444.5,721.26 463.5,711.31 489.5,699.65 508.5,685.92 533.5,666.01 552.5,644.02 578.5,613.47" fill="none" stroke="#000" stroke-width="0.9" stroke-linejoin="round"/>
<line x1="425.5" y1="730.84" x2="425.5" y2="727.44" stroke="#fff" stroke-width="0.7"/>
<line x1="425.5" y1="730.84" x2="425.5" y2="727.44" stroke="#000" stroke-width="0.7"/>
<line x1="423.5" y1="727.44" x2="427.5" y2="727.44" stroke="#000" stroke-width="0.7"/>
<line x1="444.5" y1="721.26" x2="444.5" y2="714.71" stroke="#fff" stroke-width="0.7"/>
<line x1="444.5" y1="721.26" x2="444.5" y2="714.71" stroke="#000" stroke-width="0.7"/>
<line x1="442.5" y1="714.71" x2="446.5" y2="714.71" stroke="#000" stroke-width="0.7"/>
<line x1="463.5" y1="711.31" x2="463.5" y2="703.43" stroke="#fff" stroke-width="0.7"/>
<line x1="463.5" y1="711.31" x2="463.5" y2="703.43" stroke="#000" stroke-width="0.7"/>
<line x1="461.5" y1="703.43" x2="465.5" y2="703.43" stroke="#000" stroke-width="0.7"/>
<line x1="489.5" y1="699.65" x2="489.5" y2="687.62" stroke="#fff" stroke-width="0.7"/>
<line x1="489.5" y1="699.65" x2="489.5" y2="687.62" stroke="#000" stroke-width="0.7"/>
<line x1="487.5" y1="687.62" x2="491.5" y2="687.62" stroke="#000" stroke-width="0.7"/>
<line x1="508.5" y1="685.92" x2="508.5" y2="669.48" stroke="#fff" stroke-width="0.7"/>
<line x1="508.5" y1="685.92" x2="508.5" y2="669.48" stroke="#000" stroke-width="0.7"/>
<line x1="506.5" y1="669.48" x2="510.5" y2="669.48" stroke="#000" stroke-width="0.7"/>
<line x1="533.5" y1="666.01" x2="533.5" y2="641.69" stroke="#fff" stroke-width="0.7"/>
<line x1="533.5" y1="666.01" x2="533.5" y2="641.69" stroke="#000" stroke-width="0.7"/>
<line x1="531.5" y1="641.69" x2="535.5" y2="641.69" stroke="#000" stroke-width="0.7"/>
<line x1="552.5" y1="644.02" x2="552.5" y2="615.3" stroke="#fff" stroke-width="0.7"/>
<line x1="552.5" y1="644.02" x2="552.5" y2="615.3" stroke="#000" stroke-width="0.7"/>
<line x1="550.5" y1="615.3" x2="554.5" y2="615.3" stroke="#000" stroke-width="0.7"/>
<line x1="578.5" y1="613.47" x2="578.5" y2="575.48" stroke="#fff" stroke-width="0.7"/>
<line x1="578.5" y1="613.47" x2="578.5" y2="575.48" stroke="#000" stroke-width="0.7"/>
<line x1="576.5" y1="575.48" x2="580.5" y2="575.48" stroke="#000" stroke-width="0.7"/>
<circle cx="412.5" cy="737.01" r="2.2" fill="#000"/>
<circle cx="425.5" cy="730.84" r="2.2" fill="#000"/>
<circle cx="444.5" cy="721.26" r="2.2" fill="#000"/>
<circle cx="463.5" cy="711.31" r="2.2" fill="#000"/>
<circle cx="489.5" cy="699.65" r="2.2" fill="#000"/>
<circle cx="508.5" cy="685.92" r="2.2" fill="#000"/>
<circle cx="533.5" cy="666.01" r="2.2" fill="#000"/>
<circle cx="552.5" cy="644.02" r="2.2" fill="#000"/>
<circle cx="578.5" cy="613.47" r="2.2" fill="#000"/>
<line x1="421.6" y1="559.4" x2="435.1" y2="559.4" stroke="#000" stroke-width="0.8"/>
<circle cx="428.1" cy="559.4" r="1.8" fill="#000"/>
<text x="443" y="561.9" font-size="6.82" font-weight="bold" text-anchor="start" fill="#000" font-family='"Liberation Sans", sans-serif' textLength="24.75" lengthAdjust="spacingAndGlyphs">Vehicle</text>
<line x1="421.6" y1="572.1" x2="435.1" y2="572.1" stroke="#8888ff" stroke-width="0.8"/>
<polygon points="428.1,570.03 430.08,573.76 426.12,573.76" fill="#0000ff"/>
<text x="443" y="574.6" font-size="6.82" font-weight="bold" text-anchor="start" fill="#000" font-family='"Liberation Sans", sans-serif' textLength="115.4" lengthAdjust="spacingAndGlyphs">GQ1001, 10mg/kg, i.v., D0, 14, n=4</text>
<line x1="421.6" y1="583.5" x2="435.1" y2="583.5" stroke="#ff0000" stroke-width="0.8"/>
<rect x="426.3" y="581.7" width="3.6" height="3.6" fill="#ff0000"/>
<text x="443" y="586" font-size="6.82" font-weight="bold" text-anchor="start" fill="#000" font-family='"Liberation Sans", sans-serif' textLength="109" lengthAdjust="spacingAndGlyphs">T-DXd, 10mg/kg, i.v., D0, 14, n=4</text>
</svg>
</body></html>
